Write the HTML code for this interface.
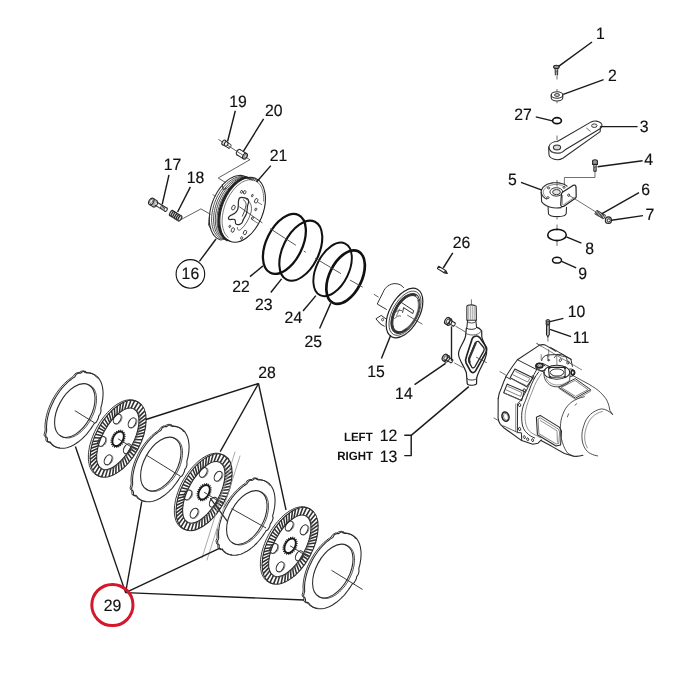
<!DOCTYPE html>
<html><head><meta charset="utf-8"><title>Parts diagram</title>
<style>
html,body{margin:0;padding:0;background:#fff;width:700px;height:700px;overflow:hidden}
svg{display:block}
text{font-family:"Liberation Sans",sans-serif;fill:#111;stroke:#111;stroke-width:0.16px;text-rendering:geometricPrecision}
</style></head><body>
<svg width="700" height="700" viewBox="0 0 700 700">
<rect width="700" height="700" fill="#fff"/>
<path d="M59.7,447.8 L58.4,447.6 L57.2,447.4 L56.0,447.1 L54.9,446.7 L53.8,446.2 L52.8,445.6 L51.8,444.9 L50.9,444.1 L50.0,443.2 L49.2,442.2 L48.2,441.6 L46.5,441.5 L45.9,440.2 L45.9,438.3 L45.4,436.9 L44.4,435.9 L44.1,434.3 L44.8,432.0 L45.2,429.9 L45.1,428.2 L45.0,426.5 L45.1,424.7 L45.2,422.9 L45.5,421.1 L45.7,419.2 L46.1,417.3 L46.5,415.4 L47.0,413.5 L47.6,411.5 L48.2,409.6 L49.0,407.6 L49.7,405.7 L50.6,403.8 L51.5,401.9 L52.4,400.0 L53.4,398.1 L54.5,396.3 L55.6,394.5 L56.8,392.7 L58.0,391.0 L59.2,389.4 L60.5,387.8 L61.8,386.2 L63.2,384.8 L64.5,383.4 L65.9,382.0 L67.3,380.8 L68.8,379.6 L70.2,378.5 L71.7,377.5 L73.1,376.5 L74.7,374.1 L76.2,373.1 L77.7,372.4 L79.1,372.6 L80.7,371.4 L82.2,371.0 L83.6,370.7 L84.5,372.5 L85.8,372.4 L87.1,372.4 L88.4,372.6 L89.6,372.8 L90.7,373.1 L91.9,373.6 L92.9,374.1 L94.0,374.7 L94.9,375.5 L95.8,376.3 L96.7,377.2 L97.5,378.2" fill="none" stroke="#2c2c2c" stroke-width="0.96" stroke-linejoin="round" stroke-linecap="round" />
<path d="M96.2,422.2 L94.2,423.5 L93.1,425.3 L91.9,427.1 L90.7,428.9 L89.5,430.5 L88.2,432.2 L86.9,433.8 L85.6,435.3 L84.2,436.7 L82.8,438.1 L81.4,439.4 L79.9,440.6 L78.5,441.8 L77.0,442.8 L75.6,443.8 L74.1,444.7 L72.6,445.5 L71.2,446.2 L69.7,446.8 L68.3,447.3 L66.9,447.7 L65.5,448.0 L64.1,448.2 L62.8,448.3 L61.4,448.3 L60.2,448.2 L58.9,448.0 L57.7,447.7 L56.6,447.3 L55.5,446.8 L54.5,446.2 L53.5,445.5 L52.5,444.7 L51.7,443.8 L50.9,442.8 L50.0,441.9 L48.1,442.2 L47.5,440.9 L47.5,438.9 L47.0,437.5 L46.0,436.6 L45.6,435.0 L46.1,432.8 L46.7,430.6 L46.6,428.9 L46.5,427.2 L46.6,425.4 L46.7,423.6 L46.9,421.7 L47.2,419.8 L47.6,417.9 L48.0,416.0 L48.5,414.0 L49.1,412.1 L49.7,410.1 L50.4,408.2 L51.2,406.2 L52.1,404.3 L53.0,402.4 L53.9,400.5 L54.9,398.6 L56.0,396.8 L57.1,395.0 L58.3,393.2 L59.5,391.5 L60.7,389.8 L62.0,388.2 L63.4,386.7 L64.7,385.2 L66.1,383.8 L67.5,382.4 L68.9,381.2 L70.4,380.0 L71.8,378.9 L73.3,377.9 L74.8,377.0 L76.3,374.3 L77.8,373.5 L79.4,372.9 L80.8,373.1 L82.4,371.8 L83.9,371.4 L85.3,371.2 L86.2,373.0 L87.5,372.9 L88.8,373.0 L90.0,373.1 L91.3,373.4 L92.4,373.7 L93.6,374.2 L94.6,374.7 L95.6,375.4 L96.6,376.1 L97.5,376.9 L98.4,377.9 L99.1,378.9 L99.8,380.0 L100.5,381.2 L101.1,382.4 L101.6,383.8 L102.0,385.2 L102.4,386.6 L102.6,388.2 L102.9,389.8 L103.0,391.5 L103.1,393.2 L103.0,394.9 L102.9,396.7 L102.8,398.6 L102.5,400.4 L102.2,402.3 L101.8,404.3 L101.3,406.2 L100.8,408.1 L101.0,410.1 L100.8,412.1 L100.0,414.2 L98.7,416.1 L98.3,418.3 L97.3,420.3 L96.2,422.2Z" fill="none" stroke="#2c2c2c" stroke-width="1.08" stroke-linejoin="round" stroke-linecap="round" />
<ellipse cx="74.8" cy="410.6" rx="16.7" ry="29.2" fill="none" stroke="#2c2c2c" stroke-width="1.08" transform="rotate(28.5 74.8 410.6)" />
<path d="M87.5,384.4 L88.6,384.7 L89.7,385.2 L90.7,385.7 L91.6,386.4 L92.5,387.1 L93.3,388.0 L94.0,389.0 L94.6,390.1 L95.2,391.3 L95.6,392.6 L96.0,394.0 L96.3,395.4 L96.4,397.0 L96.5,398.5 L96.5,400.2 L96.4,401.9 L96.2,403.7 L95.9,405.4 L95.5,407.2 L95.1,409.1 L94.5,410.9 L93.9,412.8 L93.1,414.6 L92.3,416.4 L91.4,418.2 L90.5,419.9 L89.5,421.7 L88.4,423.3 L87.3,424.9 L86.1,426.5 L84.8,427.9 L83.6,429.3 L82.2,430.6 L80.9,431.9 L79.5,433.0 L78.2,434.0 L76.8,434.9 L75.4,435.7 L74.0,436.4 L72.7,436.9 L71.3,437.4 L70.0,437.7 L68.7,437.9 L67.4,438.0 L66.2,437.9 L65.0,437.7 L63.9,437.4 L62.8,437.0 L61.8,436.4 L60.9,435.8 L60.0,435.0" fill="none" stroke="#2c2c2c" stroke-width="0.84" stroke-linejoin="round" stroke-linecap="round" />
<path d="M137.7,449.4 L131.4,446.2 M135.9,452.6 L130.2,448.5 M133.9,455.6 L128.8,450.6 M131.8,458.6 L127.4,452.8 M129.4,461.6 L125.8,455.0 M127.2,464.2 L124.3,457.0 M124.6,466.9 L122.5,459.1 M121.9,469.3 L120.6,461.1 M119.0,471.5 L118.5,463.1 M115.8,473.6 L116.1,465.1 M112.7,475.2 L113.6,466.8 M109.1,476.5 L110.8,468.3 M105.3,477.1 L107.6,469.4 M101.6,476.9 L104.5,469.6 M97.9,475.6 L101.4,468.7 M95.0,473.3 L99.2,466.6 M92.8,470.2 L97.7,463.8 M91.3,466.6 L96.9,460.6 M90.4,462.9 L96.6,457.3 M90.1,459.3 L96.7,454.4 M90.1,455.5 L97.1,451.3 M90.5,451.8 L97.7,448.4 M91.0,448.3 L98.3,445.7 M91.9,444.7 L99.1,443.1 M92.8,441.4 L100.0,440.7 M94.1,437.7 L101.0,438.1 M95.5,434.3 L102.0,435.8 M97.0,431.0 L103.1,433.5 M98.7,427.8 L104.3,431.2 M100.3,424.9 L105.4,429.2 M102.3,421.9 L106.8,427.1 M104.4,418.9 L108.2,424.9 M106.8,415.9 L109.8,422.7 M109.0,413.3 L111.3,420.7 M111.6,410.6 L113.1,418.6 M114.3,408.2 L115.0,416.6 M117.2,406.0 L117.1,414.6 M120.4,403.9 L119.5,412.6 M123.5,402.3 L122.0,410.9 M127.1,401.0 L124.8,409.4 M130.9,400.4 L128.0,408.3 M134.6,400.6 L131.1,408.1 M138.3,401.9 L134.2,409.0 M141.2,404.2 L136.4,411.1 M143.4,407.3 L137.9,413.9 M144.9,410.9 L138.7,417.1 M145.8,414.6 L139.0,420.4 M146.1,418.2 L138.9,423.3 M146.1,422.0 L138.5,426.4 M145.7,425.7 L137.9,429.3 M145.2,429.2 L137.3,432.0 M144.3,432.8 L136.5,434.6 M143.4,436.1 L135.6,437.0 M142.1,439.8 L134.6,439.6 M140.7,443.2 L133.6,441.9 M139.2,446.5 L132.5,444.2" fill="none" stroke="#303030" stroke-width="1.55"/>
<ellipse cx="118.1" cy="438.8" rx="22.3" ry="42.0" fill="none" stroke="#2a2a2a" stroke-width="1.08" transform="rotate(28.5 118.1 438.8)" />
<ellipse cx="117.8" cy="438.9" rx="15.5" ry="34.0" fill="none" stroke="#2a2a2a" stroke-width="1.08" transform="rotate(28.5 117.8 438.9)" />
<path d="M102.1,476.6 L100.5,476.4 L98.9,476.1 L97.5,475.6 L96.1,474.9 L94.8,474.0 L93.6,473.0 L92.5,471.8 L91.6,470.4 L90.7,468.9 L90.0,467.3 L89.4,465.5 L89.0,463.5 L88.6,461.5 L88.4,459.3 L88.4,457.1 L88.4,454.7 L88.6,452.3 L89.0,449.8 L89.4,447.2 L90.0,444.6 L90.8,442.0 L91.6,439.3 L92.6,436.7 L93.6,434.0 L94.8,431.4 L96.1,428.8 L97.5,426.2 L99.0,423.7 L100.5,421.3 L102.2,419.0 L103.9,416.7 L105.6,414.6 L107.5,412.5 L109.3,410.6 L111.2,408.8 L113.1,407.2 L115.1,405.7 L117.0,404.3 L118.9,403.2 L120.8,402.2 L122.7,401.3 L124.6,400.6 L126.5,400.2 L128.2,399.9 L130.0,399.7 L131.6,399.8 L133.2,400.0 L134.7,400.5 L136.1,401.1 L137.5,401.9 L138.7,402.8 L139.8,404.0 L140.8,405.3" fill="none" stroke="#2c2c2c" stroke-width="0.96" stroke-linejoin="round" stroke-linecap="round" />
<path d="M132.6,408.5 L133.7,408.8 L134.7,409.1 L135.6,409.6 L136.5,410.3 L137.3,411.0 L138.0,411.9 L138.6,413.0 L139.1,414.1 L139.5,415.4 L139.8,416.8 L140.0,418.3 L140.2,419.9 L140.2,421.5 L140.1,423.3 L139.9,425.1 L139.7,427.0 L139.3,429.0 L138.8,431.0 L138.3,433.1 L137.6,435.1 L136.9,437.2 L136.1,439.3 L135.2,441.5 L134.2,443.5 L133.2,445.6 L132.1,447.7 L130.9,449.7 L129.7,451.6 L128.4,453.5 L127.1,455.4 L125.7,457.1 L124.3,458.8 L122.9,460.4 L121.5,461.8 L120.0,463.2 L118.6,464.5 L117.1,465.6 L115.7,466.7 L114.3,467.6 L112.9,468.3 L111.5,468.9 L110.2,469.4 L108.9,469.8 L107.6,470.0 L106.4,470.0 L105.3,469.9 L104.2,469.7 L103.2,469.3 L102.3,468.8 L101.4,468.2 L100.7,467.4" fill="none" stroke="#666" stroke-width="0.6" stroke-linejoin="round" stroke-linecap="round" />
<ellipse cx="117.2" cy="418.9" rx="3.4" ry="5.3" fill="none" stroke="#2c2c2c" stroke-width="1.08" transform="rotate(28.5 117.2 418.9)" />
<path d="M121.1,414.9 L121.5,415.4 L121.8,416.0 L121.9,416.6 L122.0,417.3 L122.0,418.1 L121.8,418.9 L121.6,419.7 L121.3,420.5 L120.9,421.2 L120.4,422.0 L119.8,422.6 L119.2,423.1 L118.6,423.6 L118.0,423.9 L117.3,424.1 L116.7,424.2 L116.1,424.1" fill="none" stroke="#555" stroke-width="0.72" stroke-linejoin="round" stroke-linecap="round" />
<ellipse cx="132.1" cy="422.8" rx="3.4" ry="5.3" fill="none" stroke="#2c2c2c" stroke-width="1.08" transform="rotate(28.5 132.1 422.8)" />
<path d="M136.0,418.7 L136.4,419.2 L136.7,419.8 L136.8,420.4 L136.9,421.1 L136.9,421.9 L136.7,422.7 L136.5,423.5 L136.2,424.3 L135.8,425.0 L135.3,425.8 L134.7,426.4 L134.1,426.9 L133.5,427.4 L132.9,427.7 L132.2,427.9 L131.6,428.0 L131.0,427.9" fill="none" stroke="#555" stroke-width="0.72" stroke-linejoin="round" stroke-linecap="round" />
<ellipse cx="127.3" cy="448.8" rx="3.4" ry="5.3" fill="none" stroke="#2c2c2c" stroke-width="1.08" transform="rotate(28.5 127.3 448.8)" />
<path d="M131.2,444.7 L131.6,445.2 L131.9,445.8 L132.0,446.4 L132.1,447.1 L132.1,447.9 L131.9,448.7 L131.7,449.5 L131.4,450.3 L131.0,451.0 L130.5,451.8 L129.9,452.4 L129.3,452.9 L128.7,453.4 L128.1,453.7 L127.4,453.9 L126.8,454.0 L126.2,453.9" fill="none" stroke="#555" stroke-width="0.72" stroke-linejoin="round" stroke-linecap="round" />
<ellipse cx="108.1" cy="459.8" rx="3.4" ry="5.3" fill="none" stroke="#2c2c2c" stroke-width="1.08" transform="rotate(28.5 108.1 459.8)" />
<path d="M112.0,455.7 L112.4,456.2 L112.7,456.8 L112.8,457.4 L112.9,458.1 L112.9,458.9 L112.7,459.7 L112.5,460.5 L112.2,461.3 L111.8,462.0 L111.3,462.8 L110.7,463.4 L110.1,463.9 L109.5,464.4 L108.9,464.7 L108.2,464.9 L107.6,465.0 L107.0,464.9" fill="none" stroke="#555" stroke-width="0.72" stroke-linejoin="round" stroke-linecap="round" />
<ellipse cx="101.8" cy="441.4" rx="3.4" ry="5.3" fill="none" stroke="#2c2c2c" stroke-width="1.08" transform="rotate(28.5 101.8 441.4)" />
<path d="M105.7,437.3 L106.1,437.8 L106.4,438.4 L106.5,439.0 L106.6,439.7 L106.6,440.5 L106.4,441.3 L106.2,442.1 L105.9,442.9 L105.5,443.6 L105.0,444.4 L104.4,445.0 L103.8,445.5 L103.2,446.0 L102.6,446.3 L101.9,446.5 L101.3,446.6 L100.7,446.5" fill="none" stroke="#555" stroke-width="0.72" stroke-linejoin="round" stroke-linecap="round" />
<ellipse cx="118.1" cy="438.8" rx="5.0" ry="7.8" fill="none" stroke="#1a1a1a" stroke-width="1.92" transform="rotate(28.5 118.1 438.8)" />
<ellipse cx="118.1" cy="438.8" rx="6.2" ry="9.1" fill="none" stroke="#1a1a1a" stroke-width="1.2" transform="rotate(28.5 118.1 438.8)" stroke-dasharray="1 1.1"/>
<path d="M145.7,501.3 L144.4,501.1 L143.2,500.9 L142.0,500.6 L140.9,500.2 L139.8,499.7 L138.8,499.1 L137.8,498.4 L136.9,497.6 L136.0,496.7 L135.2,495.7 L134.2,495.1 L132.5,495.0 L131.9,493.7 L131.9,491.8 L131.4,490.4 L130.4,489.4 L130.1,487.8 L130.8,485.5 L131.2,483.4 L131.1,481.7 L131.0,480.0 L131.1,478.2 L131.2,476.4 L131.5,474.6 L131.7,472.7 L132.1,470.8 L132.5,468.9 L133.0,467.0 L133.6,465.0 L134.2,463.1 L135.0,461.1 L135.7,459.2 L136.6,457.3 L137.5,455.4 L138.4,453.5 L139.4,451.6 L140.5,449.8 L141.6,448.0 L142.8,446.2 L144.0,444.5 L145.2,442.9 L146.5,441.3 L147.8,439.7 L149.2,438.3 L150.5,436.9 L151.9,435.5 L153.3,434.3 L154.8,433.1 L156.2,432.0 L157.7,431.0 L159.1,430.0 L160.7,427.6 L162.2,426.6 L163.7,425.9 L165.1,426.1 L166.7,424.9 L168.2,424.5 L169.6,424.2 L170.5,426.0 L171.8,425.9 L173.1,425.9 L174.4,426.1 L175.6,426.3 L176.7,426.6 L177.9,427.1 L178.9,427.6 L180.0,428.2 L180.9,429.0 L181.8,429.8 L182.7,430.7 L183.5,431.7" fill="none" stroke="#2c2c2c" stroke-width="0.96" stroke-linejoin="round" stroke-linecap="round" />
<path d="M182.2,475.7 L180.2,477.0 L179.1,478.8 L177.9,480.6 L176.7,482.4 L175.5,484.0 L174.2,485.7 L172.9,487.3 L171.6,488.8 L170.2,490.2 L168.8,491.6 L167.4,492.9 L165.9,494.1 L164.5,495.3 L163.0,496.3 L161.6,497.3 L160.1,498.2 L158.6,499.0 L157.2,499.7 L155.7,500.3 L154.3,500.8 L152.9,501.2 L151.5,501.5 L150.1,501.7 L148.8,501.8 L147.4,501.8 L146.2,501.7 L144.9,501.5 L143.7,501.2 L142.6,500.8 L141.5,500.3 L140.5,499.7 L139.5,499.0 L138.5,498.2 L137.7,497.3 L136.9,496.3 L136.0,495.4 L134.1,495.7 L133.5,494.4 L133.5,492.4 L133.0,491.0 L132.0,490.1 L131.6,488.5 L132.1,486.3 L132.7,484.1 L132.6,482.4 L132.5,480.7 L132.6,478.9 L132.7,477.1 L132.9,475.2 L133.2,473.3 L133.6,471.4 L134.0,469.5 L134.5,467.5 L135.1,465.6 L135.7,463.6 L136.4,461.7 L137.2,459.7 L138.1,457.8 L139.0,455.9 L139.9,454.0 L140.9,452.1 L142.0,450.3 L143.1,448.5 L144.3,446.7 L145.5,445.0 L146.7,443.3 L148.0,441.7 L149.4,440.2 L150.7,438.7 L152.1,437.3 L153.5,435.9 L154.9,434.7 L156.4,433.5 L157.8,432.4 L159.3,431.4 L160.8,430.5 L162.3,427.8 L163.8,427.0 L165.4,426.4 L166.8,426.6 L168.4,425.3 L169.9,424.9 L171.3,424.7 L172.2,426.5 L173.5,426.4 L174.8,426.5 L176.0,426.6 L177.3,426.9 L178.4,427.2 L179.6,427.7 L180.6,428.2 L181.6,428.9 L182.6,429.6 L183.5,430.4 L184.4,431.4 L185.1,432.4 L185.8,433.5 L186.5,434.7 L187.1,435.9 L187.6,437.3 L188.0,438.7 L188.4,440.1 L188.6,441.7 L188.9,443.3 L189.0,445.0 L189.1,446.7 L189.0,448.4 L188.9,450.2 L188.8,452.1 L188.5,453.9 L188.2,455.8 L187.8,457.8 L187.3,459.7 L186.8,461.6 L187.0,463.6 L186.8,465.6 L186.0,467.7 L184.7,469.6 L184.3,471.8 L183.3,473.8 L182.2,475.7Z" fill="none" stroke="#2c2c2c" stroke-width="1.08" stroke-linejoin="round" stroke-linecap="round" />
<ellipse cx="160.8" cy="464.1" rx="16.7" ry="29.2" fill="none" stroke="#2c2c2c" stroke-width="1.08" transform="rotate(28.5 160.8 464.1)" />
<path d="M173.5,437.9 L174.6,438.2 L175.7,438.7 L176.7,439.2 L177.6,439.9 L178.5,440.6 L179.3,441.5 L180.0,442.5 L180.6,443.6 L181.2,444.8 L181.6,446.1 L182.0,447.5 L182.3,448.9 L182.4,450.5 L182.5,452.0 L182.5,453.7 L182.4,455.4 L182.2,457.2 L181.9,458.9 L181.5,460.7 L181.1,462.6 L180.5,464.4 L179.9,466.3 L179.1,468.1 L178.3,469.9 L177.4,471.7 L176.5,473.4 L175.5,475.2 L174.4,476.8 L173.3,478.4 L172.1,480.0 L170.8,481.4 L169.6,482.8 L168.2,484.1 L166.9,485.4 L165.5,486.5 L164.2,487.5 L162.8,488.4 L161.4,489.2 L160.0,489.9 L158.7,490.4 L157.3,490.9 L156.0,491.2 L154.7,491.4 L153.4,491.5 L152.2,491.4 L151.0,491.2 L149.9,490.9 L148.8,490.5 L147.8,489.9 L146.9,489.3 L146.0,488.5" fill="none" stroke="#2c2c2c" stroke-width="0.84" stroke-linejoin="round" stroke-linecap="round" />
<path d="M223.7,502.9 L217.4,499.7 M221.9,506.1 L216.2,502.0 M219.9,509.1 L214.8,504.1 M217.8,512.1 L213.4,506.3 M215.4,515.1 L211.8,508.5 M213.2,517.7 L210.3,510.5 M210.6,520.4 L208.5,512.6 M207.9,522.8 L206.6,514.6 M205.0,525.0 L204.5,516.6 M201.8,527.1 L202.1,518.6 M198.7,528.7 L199.6,520.3 M195.1,530.0 L196.8,521.8 M191.3,530.6 L193.6,522.9 M187.6,530.4 L190.5,523.1 M183.9,529.1 L187.4,522.2 M181.0,526.8 L185.2,520.1 M178.8,523.7 L183.7,517.3 M177.3,520.1 L182.9,514.1 M176.4,516.4 L182.6,510.8 M176.1,512.8 L182.7,507.9 M176.1,509.0 L183.1,504.8 M176.5,505.3 L183.7,501.9 M177.0,501.8 L184.3,499.2 M177.9,498.2 L185.1,496.6 M178.8,494.9 L186.0,494.2 M180.1,491.2 L187.0,491.6 M181.5,487.8 L188.0,489.3 M183.0,484.5 L189.1,487.0 M184.7,481.3 L190.3,484.7 M186.3,478.4 L191.4,482.7 M188.3,475.4 L192.8,480.6 M190.4,472.4 L194.2,478.4 M192.8,469.4 L195.8,476.2 M195.0,466.8 L197.3,474.2 M197.6,464.1 L199.1,472.1 M200.3,461.7 L201.0,470.1 M203.2,459.5 L203.1,468.1 M206.4,457.4 L205.5,466.1 M209.5,455.8 L208.0,464.4 M213.1,454.5 L210.8,462.9 M216.9,453.9 L214.0,461.8 M220.6,454.1 L217.1,461.6 M224.3,455.4 L220.2,462.5 M227.2,457.7 L222.4,464.6 M229.4,460.8 L223.9,467.4 M230.9,464.4 L224.7,470.6 M231.8,468.1 L225.0,473.9 M232.1,471.7 L224.9,476.8 M232.1,475.5 L224.5,479.9 M231.7,479.2 L223.9,482.8 M231.2,482.7 L223.3,485.5 M230.3,486.3 L222.5,488.1 M229.4,489.6 L221.6,490.5 M228.1,493.3 L220.6,493.1 M226.7,496.7 L219.6,495.4 M225.2,500.0 L218.5,497.7" fill="none" stroke="#303030" stroke-width="1.55"/>
<ellipse cx="204.1" cy="492.2" rx="22.3" ry="42.0" fill="none" stroke="#2a2a2a" stroke-width="1.08" transform="rotate(28.5 204.1 492.2)" />
<ellipse cx="203.8" cy="492.4" rx="15.5" ry="34.0" fill="none" stroke="#2a2a2a" stroke-width="1.08" transform="rotate(28.5 203.8 492.4)" />
<path d="M188.1,530.1 L186.5,529.9 L184.9,529.6 L183.5,529.1 L182.1,528.4 L180.8,527.5 L179.6,526.5 L178.5,525.3 L177.6,523.9 L176.7,522.4 L176.0,520.8 L175.4,519.0 L175.0,517.0 L174.6,515.0 L174.4,512.8 L174.4,510.6 L174.4,508.2 L174.6,505.8 L175.0,503.3 L175.4,500.7 L176.0,498.1 L176.8,495.5 L177.6,492.8 L178.6,490.2 L179.6,487.5 L180.8,484.9 L182.1,482.3 L183.5,479.7 L185.0,477.2 L186.5,474.8 L188.2,472.5 L189.9,470.2 L191.6,468.1 L193.5,466.0 L195.3,464.1 L197.2,462.3 L199.1,460.7 L201.1,459.2 L203.0,457.8 L204.9,456.7 L206.8,455.7 L208.7,454.8 L210.6,454.1 L212.5,453.7 L214.2,453.4 L216.0,453.2 L217.6,453.3 L219.2,453.5 L220.7,454.0 L222.1,454.6 L223.5,455.4 L224.7,456.3 L225.8,457.5 L226.8,458.8" fill="none" stroke="#2c2c2c" stroke-width="0.96" stroke-linejoin="round" stroke-linecap="round" />
<path d="M218.6,462.0 L219.7,462.3 L220.7,462.6 L221.6,463.1 L222.5,463.8 L223.3,464.5 L224.0,465.4 L224.6,466.5 L225.1,467.6 L225.5,468.9 L225.8,470.3 L226.0,471.8 L226.2,473.4 L226.2,475.0 L226.1,476.8 L225.9,478.6 L225.7,480.5 L225.3,482.5 L224.8,484.5 L224.3,486.6 L223.6,488.6 L222.9,490.7 L222.1,492.8 L221.2,495.0 L220.2,497.0 L219.2,499.1 L218.1,501.2 L216.9,503.2 L215.7,505.1 L214.4,507.0 L213.1,508.9 L211.7,510.6 L210.3,512.3 L208.9,513.9 L207.5,515.3 L206.0,516.7 L204.6,518.0 L203.1,519.1 L201.7,520.2 L200.3,521.1 L198.9,521.8 L197.5,522.4 L196.2,522.9 L194.9,523.3 L193.6,523.5 L192.4,523.5 L191.3,523.4 L190.2,523.2 L189.2,522.8 L188.3,522.3 L187.4,521.7 L186.7,520.9" fill="none" stroke="#666" stroke-width="0.6" stroke-linejoin="round" stroke-linecap="round" />
<ellipse cx="203.2" cy="472.4" rx="3.4" ry="5.3" fill="none" stroke="#2c2c2c" stroke-width="1.08" transform="rotate(28.5 203.2 472.4)" />
<path d="M207.1,468.4 L207.5,468.9 L207.8,469.5 L207.9,470.1 L208.0,470.8 L208.0,471.6 L207.8,472.4 L207.6,473.2 L207.3,474.0 L206.9,474.7 L206.4,475.5 L205.8,476.1 L205.2,476.6 L204.6,477.1 L204.0,477.4 L203.3,477.6 L202.7,477.7 L202.1,477.6" fill="none" stroke="#555" stroke-width="0.72" stroke-linejoin="round" stroke-linecap="round" />
<ellipse cx="218.1" cy="476.2" rx="3.4" ry="5.3" fill="none" stroke="#2c2c2c" stroke-width="1.08" transform="rotate(28.5 218.1 476.2)" />
<path d="M222.0,472.2 L222.4,472.7 L222.7,473.3 L222.8,473.9 L222.9,474.6 L222.9,475.4 L222.7,476.2 L222.5,477.0 L222.2,477.8 L221.8,478.5 L221.3,479.3 L220.7,479.9 L220.1,480.4 L219.5,480.9 L218.9,481.2 L218.2,481.4 L217.6,481.5 L217.0,481.4" fill="none" stroke="#555" stroke-width="0.72" stroke-linejoin="round" stroke-linecap="round" />
<ellipse cx="213.3" cy="502.2" rx="3.4" ry="5.3" fill="none" stroke="#2c2c2c" stroke-width="1.08" transform="rotate(28.5 213.3 502.2)" />
<path d="M217.2,498.2 L217.6,498.7 L217.9,499.3 L218.0,499.9 L218.1,500.6 L218.1,501.4 L217.9,502.2 L217.7,503.0 L217.4,503.8 L217.0,504.5 L216.5,505.3 L215.9,505.9 L215.3,506.4 L214.7,506.9 L214.1,507.2 L213.4,507.4 L212.8,507.5 L212.2,507.4" fill="none" stroke="#555" stroke-width="0.72" stroke-linejoin="round" stroke-linecap="round" />
<ellipse cx="194.1" cy="513.2" rx="3.4" ry="5.3" fill="none" stroke="#2c2c2c" stroke-width="1.08" transform="rotate(28.5 194.1 513.2)" />
<path d="M198.0,509.2 L198.4,509.7 L198.7,510.3 L198.8,510.9 L198.9,511.6 L198.9,512.4 L198.7,513.2 L198.5,514.0 L198.2,514.8 L197.8,515.5 L197.3,516.3 L196.7,516.9 L196.1,517.4 L195.5,517.9 L194.9,518.2 L194.2,518.4 L193.6,518.5 L193.0,518.4" fill="none" stroke="#555" stroke-width="0.72" stroke-linejoin="round" stroke-linecap="round" />
<ellipse cx="187.8" cy="494.9" rx="3.4" ry="5.3" fill="none" stroke="#2c2c2c" stroke-width="1.08" transform="rotate(28.5 187.8 494.9)" />
<path d="M191.7,490.8 L192.1,491.3 L192.4,491.9 L192.5,492.5 L192.6,493.2 L192.6,494.0 L192.4,494.8 L192.2,495.6 L191.9,496.4 L191.5,497.1 L191.0,497.9 L190.4,498.5 L189.8,499.0 L189.2,499.5 L188.6,499.8 L187.9,500.0 L187.3,500.1 L186.7,500.0" fill="none" stroke="#555" stroke-width="0.72" stroke-linejoin="round" stroke-linecap="round" />
<ellipse cx="204.1" cy="492.2" rx="5.0" ry="7.8" fill="none" stroke="#1a1a1a" stroke-width="1.92" transform="rotate(28.5 204.1 492.2)" />
<ellipse cx="204.1" cy="492.2" rx="6.2" ry="9.1" fill="none" stroke="#1a1a1a" stroke-width="1.2" transform="rotate(28.5 204.1 492.2)" stroke-dasharray="1 1.1"/>
<path d="M231.7,554.8 L230.8,554.7 L230.0,554.6 L229.2,554.4 L228.4,554.2 L227.6,554.0 L226.9,553.7 L226.1,553.3 L225.4,553.0 L224.8,552.5 L224.1,552.1 L223.5,551.6 L222.9,551.0 L222.3,550.4 L221.7,549.8 L221.2,549.1 L220.7,548.4 L219.1,549.0 L218.5,548.5 L218.0,547.6 L217.7,546.7 L217.9,545.2 L217.6,544.2 L216.7,543.8 L216.4,542.8 L216.2,541.7 L216.0,540.6 L216.9,538.7 L217.2,537.3 L217.1,536.2 L217.1,535.1 L217.0,533.9 L217.1,532.7 L217.1,531.6 L217.2,530.3 L217.3,529.1 M224.2,507.3 L224.9,506.0 L225.6,504.8 L226.3,503.6 L227.0,502.4 L227.8,501.2 L228.6,500.0 L229.4,498.8 L230.2,497.7 L231.0,496.6 L231.9,495.5 L232.7,494.5 L233.6,493.4 L234.5,492.4 L235.4,491.5 L236.4,490.5 L237.3,489.6 L238.2,488.7 L239.2,487.9 L240.1,487.1 L241.1,486.3 L242.1,485.6 L243.0,484.9 L244.0,484.2 L245.0,483.6 L246.0,482.6 L247.0,480.7 L248.1,480.2 L249.1,479.7 L250.1,479.3 L251.0,479.7 L252.0,479.3 L253.1,478.2 L254.1,478.0 L255.1,477.8 L255.9,478.0 L256.4,479.5 L257.3,479.4 L258.2,479.4 L259.0,479.4 L259.9,479.5 L260.7,479.6 L261.5,479.8 L262.3,480.0 L263.1,480.3 L263.8,480.6 L264.6,480.9 L265.3,481.3 L265.9,481.7 L266.6,482.2 L267.2,482.7 L267.8,483.3 L268.4,483.9 L269.0,484.5 L269.5,485.2" fill="none" stroke="#2c2c2c" stroke-width="0.96" stroke-linejoin="round" stroke-linecap="round" />
<path d="M262.5,480.2 L263.3,480.4 L264.1,480.6 L264.9,480.9 L265.6,481.2 L266.3,481.6 L267.0,482.0 L267.7,482.4 L268.4,482.9 L269.0,483.4 L269.6,484.0 L270.1,484.6 L270.7,485.3 L271.2,486.0 L271.7,486.7 L272.1,487.5 L272.5,488.3 L272.9,489.1 L273.3,490.0 L273.6,490.9 L273.9,491.8 L274.2,492.8 L274.4,493.8 L274.6,494.8 L274.7,495.9 L274.9,497.0 L275.0,498.1 L275.0,499.2 L275.1,500.4 L275.0,501.5 L275.0,502.7 L274.9,503.9 L274.8,505.2 L274.7,506.4 L274.5,507.7 L274.3,508.9 L274.0,510.2 L273.8,511.5 L273.5,512.8 L273.1,514.1 L272.7,515.4 L272.7,516.7 L273.2,518.0 L272.7,519.4 L272.2,520.8 L271.6,522.1 L270.6,523.4 L270.0,524.7 L269.8,526.2 L269.1,527.6 L268.4,528.9 L267.5,530.1 L266.0,530.8 L265.3,532.0 L264.5,533.2 L263.7,534.4 L262.9,535.6 L262.1,536.7 L261.3,537.8 L260.4,538.9 L259.6,540.0 L258.7,541.0 L257.8,542.0 L256.9,543.0 L255.9,544.0 L255.0,544.9 L254.1,545.8 L253.1,546.6 L252.2,547.4 L251.2,548.2 L250.2,549.0 L249.2,549.7 L248.3,550.3 L247.3,551.0 L246.3,551.6 L245.3,552.1 L244.3,552.6 L243.4,553.1 L242.4,553.5 L241.4,553.9 L240.5,554.2 L239.5,554.5 L238.6,554.7 L237.6,554.9 L236.7,555.1 L235.8,555.2 L234.9,555.3 L234.0,555.3 L233.2,555.3 L232.3,555.2 L231.5,555.1 L230.7,554.9 L229.9,554.7 L229.1,554.5 L228.3,554.2 L227.6,553.8 L226.9,553.4 L226.2,553.0 L225.6,552.6 L224.9,552.0 L224.3,551.5 L223.7,550.9 L223.2,550.3 L222.7,549.6 L222.2,548.9 L220.5,549.6 L219.9,548.9 L219.5,548.0 L219.1,547.1 L219.3,545.6 L219.0,544.6 L218.1,544.2 L217.9,543.2 L217.7,542.1 L217.5,541.0 L218.6,538.9 L218.7,537.7 L218.6,536.6 L218.6,535.4 L218.5,534.3 L218.6,533.1 L218.6,531.9 L218.7,530.7 L218.9,529.4 L219.0,528.2 L219.2,526.9 L219.4,525.6 L219.7,524.4 L220.0,523.1 L220.3,521.8 L220.7,520.5 L221.1,519.2 L221.5,517.8 L221.9,516.5 L222.4,515.2 L222.9,513.9 L223.5,512.6 L224.0,511.3 L224.6,510.1 L225.2,508.8 L225.9,507.5 L226.6,506.3 L227.3,505.0 L228.0,503.8 L228.7,502.6 L229.5,501.4 L230.3,500.2 L231.1,499.1 L231.9,497.9 L232.7,496.8 L233.6,495.8 L234.5,494.7 L235.4,493.7 L236.3,492.7 L237.2,491.7 L238.1,490.8 L239.1,489.9 L240.0,489.0 L241.0,488.2 L241.9,487.4 L242.9,486.6 L243.9,485.9 L244.8,485.2 L245.8,484.5 L246.8,483.9 L247.8,482.3 L248.9,481.0 L249.9,480.5 L250.9,480.1 L251.8,480.4 L252.8,480.1 L254.0,478.9 L255.0,478.7 L255.9,478.4 L256.9,478.2 L257.6,479.1 L258.2,480.0 L259.1,479.9 L260.0,479.9 L260.9,480.0 L261.7,480.1 L262.5,480.2" fill="none" stroke="#2c2c2c" stroke-width="1.08" stroke-linejoin="round" stroke-linecap="round" />
<ellipse cx="246.8" cy="517.6" rx="16.7" ry="29.2" fill="none" stroke="#2c2c2c" stroke-width="1.08" transform="rotate(28.5 246.8 517.6)" />
<path d="M259.5,491.4 L260.6,491.7 L261.7,492.2 L262.7,492.7 L263.6,493.4 L264.5,494.1 L265.3,495.0 L266.0,496.0 L266.6,497.1 L267.2,498.3 L267.6,499.6 L268.0,501.0 L268.3,502.4 L268.4,504.0 L268.5,505.5 L268.5,507.2 L268.4,508.9 L268.2,510.7 L267.9,512.4 L267.5,514.2 L267.1,516.1 L266.5,517.9 L265.9,519.8 L265.1,521.6 L264.3,523.4 L263.4,525.2 L262.5,526.9 L261.5,528.7 L260.4,530.3 L259.3,531.9 L258.1,533.5 L256.8,534.9 L255.6,536.3 L254.2,537.6 L252.9,538.9 L251.5,540.0 L250.2,541.0 L248.8,541.9 L247.4,542.7 L246.0,543.4 L244.7,543.9 L243.3,544.4 L242.0,544.7 L240.7,544.9 L239.4,545.0 L238.2,544.9 L237.0,544.7 L235.9,544.4 L234.8,544.0 L233.8,543.4 L232.9,542.8 L232.0,542.0" fill="none" stroke="#2c2c2c" stroke-width="0.84" stroke-linejoin="round" stroke-linecap="round" />
<path d="M309.7,556.4 L303.4,553.2 M307.9,559.6 L302.2,555.5 M305.9,562.6 L300.8,557.6 M303.8,565.6 L299.4,559.8 M301.4,568.6 L297.8,562.0 M299.2,571.2 L296.3,564.0 M296.6,573.9 L294.5,566.1 M293.9,576.3 L292.6,568.1 M291.0,578.5 L290.5,570.1 M287.8,580.6 L288.1,572.1 M284.7,582.2 L285.6,573.8 M281.1,583.5 L282.8,575.3 M277.3,584.1 L279.6,576.4 M273.6,583.9 L276.5,576.6 M269.9,582.6 L273.4,575.7 M267.0,580.3 L271.2,573.6 M264.8,577.2 L269.7,570.8 M263.3,573.6 L268.9,567.6 M262.4,569.9 L268.6,564.3 M262.1,566.3 L268.7,561.4 M262.1,562.5 L269.1,558.3 M262.5,558.8 L269.7,555.4 M263.0,555.3 L270.3,552.7 M263.9,551.7 L271.1,550.1 M264.8,548.4 L272.0,547.7 M266.1,544.7 L273.0,545.1 M267.5,541.3 L274.0,542.8 M269.0,538.0 L275.1,540.5 M270.7,534.8 L276.3,538.2 M272.3,531.9 L277.4,536.2 M274.3,528.9 L278.8,534.1 M276.4,525.9 L280.2,531.9 M278.8,522.9 L281.8,529.7 M281.0,520.3 L283.3,527.7 M283.6,517.6 L285.1,525.6 M286.3,515.2 L287.0,523.6 M289.2,513.0 L289.1,521.6 M292.4,510.9 L291.5,519.6 M295.5,509.3 L294.0,517.9 M299.1,508.0 L296.8,516.4 M302.9,507.4 L300.0,515.3 M306.6,507.6 L303.1,515.1 M310.3,508.9 L306.2,516.0 M313.2,511.2 L308.4,518.1 M315.4,514.3 L309.9,520.9 M316.9,517.9 L310.7,524.1 M317.8,521.6 L311.0,527.4 M318.1,525.2 L310.9,530.3 M318.1,529.0 L310.5,533.4 M317.7,532.7 L309.9,536.3 M317.2,536.2 L309.3,539.0 M316.3,539.8 L308.5,541.6 M315.4,543.1 L307.6,544.0 M314.1,546.8 L306.6,546.6 M312.7,550.2 L305.6,548.9 M311.2,553.5 L304.5,551.2" fill="none" stroke="#303030" stroke-width="1.55"/>
<ellipse cx="290.1" cy="545.8" rx="22.3" ry="42.0" fill="none" stroke="#2a2a2a" stroke-width="1.08" transform="rotate(28.5 290.1 545.8)" />
<ellipse cx="289.8" cy="545.9" rx="15.5" ry="34.0" fill="none" stroke="#2a2a2a" stroke-width="1.08" transform="rotate(28.5 289.8 545.9)" />
<path d="M274.1,583.6 L272.5,583.4 L270.9,583.1 L269.5,582.6 L268.1,581.9 L266.8,581.0 L265.6,580.0 L264.5,578.8 L263.6,577.4 L262.7,575.9 L262.0,574.3 L261.4,572.5 L261.0,570.5 L260.6,568.5 L260.4,566.3 L260.4,564.1 L260.4,561.7 L260.6,559.3 L261.0,556.8 L261.4,554.2 L262.0,551.6 L262.8,549.0 L263.6,546.3 L264.6,543.7 L265.6,541.0 L266.8,538.4 L268.1,535.8 L269.5,533.2 L271.0,530.7 L272.5,528.3 L274.2,526.0 L275.9,523.7 L277.6,521.6 L279.5,519.5 L281.3,517.6 L283.2,515.8 L285.1,514.2 L287.1,512.7 L289.0,511.3 L290.9,510.2 L292.8,509.2 L294.7,508.3 L296.6,507.6 L298.5,507.2 L300.2,506.9 L302.0,506.7 L303.6,506.8 L305.2,507.0 L306.7,507.5 L308.1,508.1 L309.5,508.9 L310.7,509.8 L311.8,511.0 L312.8,512.3" fill="none" stroke="#2c2c2c" stroke-width="0.96" stroke-linejoin="round" stroke-linecap="round" />
<path d="M304.6,515.5 L305.7,515.8 L306.7,516.1 L307.6,516.6 L308.5,517.3 L309.3,518.0 L310.0,518.9 L310.6,520.0 L311.1,521.1 L311.5,522.4 L311.8,523.8 L312.0,525.3 L312.2,526.9 L312.2,528.5 L312.1,530.3 L311.9,532.1 L311.7,534.0 L311.3,536.0 L310.8,538.0 L310.3,540.1 L309.6,542.1 L308.9,544.2 L308.1,546.3 L307.2,548.5 L306.2,550.5 L305.2,552.6 L304.1,554.7 L302.9,556.7 L301.7,558.6 L300.4,560.5 L299.1,562.4 L297.7,564.1 L296.3,565.8 L294.9,567.4 L293.5,568.8 L292.0,570.2 L290.6,571.5 L289.1,572.6 L287.7,573.7 L286.3,574.6 L284.9,575.3 L283.5,575.9 L282.2,576.4 L280.9,576.8 L279.6,577.0 L278.4,577.0 L277.3,576.9 L276.2,576.7 L275.2,576.3 L274.3,575.8 L273.4,575.2 L272.7,574.4" fill="none" stroke="#666" stroke-width="0.6" stroke-linejoin="round" stroke-linecap="round" />
<ellipse cx="289.2" cy="526.0" rx="3.4" ry="5.3" fill="none" stroke="#2c2c2c" stroke-width="1.08" transform="rotate(28.5 289.2 526.0)" />
<path d="M293.1,521.9 L293.5,522.4 L293.8,523.0 L293.9,523.6 L294.0,524.3 L294.0,525.1 L293.8,525.9 L293.6,526.7 L293.3,527.5 L292.9,528.2 L292.4,529.0 L291.8,529.6 L291.2,530.1 L290.6,530.6 L290.0,530.9 L289.3,531.1 L288.7,531.2 L288.1,531.1" fill="none" stroke="#555" stroke-width="0.72" stroke-linejoin="round" stroke-linecap="round" />
<ellipse cx="304.1" cy="529.8" rx="3.4" ry="5.3" fill="none" stroke="#2c2c2c" stroke-width="1.08" transform="rotate(28.5 304.1 529.8)" />
<path d="M308.0,525.7 L308.4,526.2 L308.7,526.8 L308.8,527.4 L308.9,528.1 L308.9,528.9 L308.7,529.7 L308.5,530.5 L308.2,531.3 L307.8,532.0 L307.3,532.8 L306.7,533.4 L306.1,533.9 L305.5,534.4 L304.9,534.7 L304.2,534.9 L303.6,535.0 L303.0,534.9" fill="none" stroke="#555" stroke-width="0.72" stroke-linejoin="round" stroke-linecap="round" />
<ellipse cx="299.3" cy="555.8" rx="3.4" ry="5.3" fill="none" stroke="#2c2c2c" stroke-width="1.08" transform="rotate(28.5 299.3 555.8)" />
<path d="M303.2,551.7 L303.6,552.2 L303.9,552.8 L304.0,553.4 L304.1,554.1 L304.1,554.9 L303.9,555.7 L303.7,556.5 L303.4,557.3 L303.0,558.0 L302.5,558.8 L301.9,559.4 L301.3,559.9 L300.7,560.4 L300.1,560.7 L299.4,560.9 L298.8,561.0 L298.2,560.9" fill="none" stroke="#555" stroke-width="0.72" stroke-linejoin="round" stroke-linecap="round" />
<ellipse cx="280.1" cy="566.8" rx="3.4" ry="5.3" fill="none" stroke="#2c2c2c" stroke-width="1.08" transform="rotate(28.5 280.1 566.8)" />
<path d="M284.0,562.7 L284.4,563.2 L284.7,563.8 L284.8,564.4 L284.9,565.1 L284.9,565.9 L284.7,566.7 L284.5,567.5 L284.2,568.3 L283.8,569.0 L283.3,569.8 L282.7,570.4 L282.1,570.9 L281.5,571.4 L280.9,571.7 L280.2,571.9 L279.6,572.0 L279.0,571.9" fill="none" stroke="#555" stroke-width="0.72" stroke-linejoin="round" stroke-linecap="round" />
<ellipse cx="273.8" cy="548.4" rx="3.4" ry="5.3" fill="none" stroke="#2c2c2c" stroke-width="1.08" transform="rotate(28.5 273.8 548.4)" />
<path d="M277.7,544.3 L278.1,544.8 L278.4,545.4 L278.5,546.0 L278.6,546.7 L278.6,547.5 L278.4,548.3 L278.2,549.1 L277.9,549.9 L277.5,550.6 L277.0,551.4 L276.4,552.0 L275.8,552.5 L275.2,553.0 L274.6,553.3 L273.9,553.5 L273.3,553.6 L272.7,553.5" fill="none" stroke="#555" stroke-width="0.72" stroke-linejoin="round" stroke-linecap="round" />
<ellipse cx="290.1" cy="545.8" rx="5.0" ry="7.8" fill="none" stroke="#1a1a1a" stroke-width="1.92" transform="rotate(28.5 290.1 545.8)" />
<ellipse cx="290.1" cy="545.8" rx="6.2" ry="9.1" fill="none" stroke="#1a1a1a" stroke-width="1.2" transform="rotate(28.5 290.1 545.8)" stroke-dasharray="1 1.1"/>
<path d="M317.7,608.3 L316.4,608.1 L315.2,607.9 L314.0,607.6 L312.9,607.2 L311.8,606.7 L310.8,606.1 L309.8,605.4 L308.9,604.6 L308.0,603.7 L307.2,602.7 L306.2,602.1 L304.5,602.0 L303.9,600.7 L303.9,598.8 L303.4,597.4 L302.4,596.4 L302.1,594.8 L302.8,592.5 L303.2,590.4 L303.1,588.7 L303.0,587.0 L303.1,585.2 L303.2,583.4 L303.5,581.6 L303.7,579.7 L304.1,577.8 L304.5,575.9 L305.0,574.0 L305.6,572.0 L306.2,570.1 L307.0,568.1 L307.7,566.2 L308.6,564.3 L309.5,562.4 L310.4,560.5 L311.4,558.6 L312.5,556.8 L313.6,555.0 L314.8,553.2 L316.0,551.5 L317.2,549.9 L318.5,548.3 L319.8,546.7 L321.2,545.3 L322.5,543.9 L323.9,542.5 L325.3,541.3 L326.8,540.1 L328.2,539.0 L329.7,538.0 L331.1,537.0 L332.7,534.6 L334.2,533.6 L335.7,532.9 L337.1,533.1 L338.7,531.9 L340.2,531.5 L341.6,531.2 L342.5,533.0 L343.8,532.9 L345.1,532.9 L346.4,533.1 L347.6,533.3 L348.7,533.6 L349.9,534.1 L350.9,534.6 L352.0,535.2 L352.9,536.0 L353.8,536.8 L354.7,537.7 L355.5,538.7" fill="none" stroke="#2c2c2c" stroke-width="0.96" stroke-linejoin="round" stroke-linecap="round" />
<path d="M354.2,582.7 L352.2,584.0 L351.1,585.8 L349.9,587.6 L348.7,589.4 L347.5,591.0 L346.2,592.7 L344.9,594.3 L343.6,595.8 L342.2,597.2 L340.8,598.6 L339.4,599.9 L337.9,601.1 L336.5,602.3 L335.0,603.3 L333.6,604.3 L332.1,605.2 L330.6,606.0 L329.2,606.7 L327.7,607.3 L326.3,607.8 L324.9,608.2 L323.5,608.5 L322.1,608.7 L320.8,608.8 L319.4,608.8 L318.2,608.7 L316.9,608.5 L315.7,608.2 L314.6,607.8 L313.5,607.3 L312.5,606.7 L311.5,606.0 L310.5,605.2 L309.7,604.3 L308.9,603.3 L308.0,602.4 L306.1,602.7 L305.5,601.4 L305.5,599.4 L305.0,598.0 L304.0,597.1 L303.6,595.5 L304.1,593.3 L304.7,591.1 L304.6,589.4 L304.5,587.7 L304.6,585.9 L304.7,584.1 L304.9,582.2 L305.2,580.3 L305.6,578.4 L306.0,576.5 L306.5,574.5 L307.1,572.6 L307.7,570.6 L308.4,568.7 L309.2,566.7 L310.1,564.8 L311.0,562.9 L311.9,561.0 L312.9,559.1 L314.0,557.3 L315.1,555.5 L316.3,553.7 L317.5,552.0 L318.7,550.3 L320.0,548.7 L321.4,547.2 L322.7,545.7 L324.1,544.3 L325.5,542.9 L326.9,541.7 L328.4,540.5 L329.8,539.4 L331.3,538.4 L332.8,537.5 L334.3,534.8 L335.8,534.0 L337.4,533.4 L338.8,533.6 L340.4,532.3 L341.9,531.9 L343.3,531.7 L344.2,533.5 L345.5,533.4 L346.8,533.5 L348.0,533.6 L349.3,533.9 L350.4,534.2 L351.6,534.7 L352.6,535.2 L353.6,535.9 L354.6,536.6 L355.5,537.4 L356.4,538.4 L357.1,539.4 L357.8,540.5 L358.5,541.7 L359.1,542.9 L359.6,544.3 L360.0,545.7 L360.4,547.1 L360.6,548.7 L360.9,550.3 L361.0,552.0 L361.1,553.7 L361.0,555.4 L360.9,557.2 L360.8,559.1 L360.5,560.9 L360.2,562.8 L359.8,564.8 L359.3,566.7 L358.8,568.6 L359.0,570.6 L358.8,572.6 L358.0,574.7 L356.7,576.6 L356.3,578.8 L355.3,580.8 L354.2,582.7Z" fill="none" stroke="#2c2c2c" stroke-width="1.08" stroke-linejoin="round" stroke-linecap="round" />
<ellipse cx="332.8" cy="571.1" rx="16.7" ry="29.2" fill="none" stroke="#2c2c2c" stroke-width="1.08" transform="rotate(28.5 332.8 571.1)" />
<path d="M345.5,544.9 L346.6,545.2 L347.7,545.7 L348.7,546.2 L349.6,546.9 L350.5,547.6 L351.3,548.5 L352.0,549.5 L352.6,550.6 L353.2,551.8 L353.6,553.1 L354.0,554.5 L354.3,555.9 L354.4,557.5 L354.5,559.0 L354.5,560.7 L354.4,562.4 L354.2,564.2 L353.9,565.9 L353.5,567.7 L353.1,569.6 L352.5,571.4 L351.9,573.3 L351.1,575.1 L350.3,576.9 L349.4,578.7 L348.5,580.4 L347.5,582.2 L346.4,583.8 L345.3,585.4 L344.1,587.0 L342.8,588.4 L341.6,589.8 L340.2,591.1 L338.9,592.4 L337.5,593.5 L336.2,594.5 L334.8,595.4 L333.4,596.2 L332.0,596.9 L330.7,597.4 L329.3,597.9 L328.0,598.2 L326.7,598.4 L325.4,598.5 L324.2,598.4 L323.0,598.2 L321.9,597.9 L320.8,597.5 L319.8,596.9 L318.9,596.3 L318.0,595.5" fill="none" stroke="#2c2c2c" stroke-width="0.84" stroke-linejoin="round" stroke-linecap="round" />
<line x1="74.8" y1="410.6" x2="94.3" y2="422.7" stroke="#333" stroke-width="0.96" />
<line x1="118.1" y1="438.8" x2="137.2" y2="450.6" stroke="#333" stroke-width="0.96" />
<line x1="146.8" y1="455.4" x2="180.4" y2="476.2" stroke="#333" stroke-width="0.96" />
<line x1="204.1" y1="492.2" x2="223.2" y2="504.1" stroke="#333" stroke-width="0.96" />
<line x1="290.1" y1="545.8" x2="309.2" y2="557.6" stroke="#333" stroke-width="0.96" />
<line x1="331.5" y1="570.3" x2="362.6" y2="589.5" stroke="#333" stroke-width="0.96" />
<path d="M235,452 L202,558" fill="none" stroke="#9a9a9a" stroke-width="0.84" stroke-linejoin="round" stroke-linecap="round" />
<path d="M240,456 L207,560" fill="none" stroke="#9a9a9a" stroke-width="0.84" stroke-linejoin="round" stroke-linecap="round" />
<path d="M210.6,498.6 L227.4,521.4" fill="none" stroke="#333" stroke-width="1.32" stroke-linejoin="round" stroke-linecap="round" />
<line x1="231.6" y1="508.6" x2="266.0" y2="528.0" stroke="#333" stroke-width="0.96" />
<line x1="258.5" y1="383.5" x2="146.0" y2="419.5" stroke="#1a1a1a" stroke-width="1.38" />
<line x1="258.5" y1="383.5" x2="220.2" y2="451.6" stroke="#1a1a1a" stroke-width="1.38" />
<line x1="258.5" y1="383.5" x2="286.0" y2="510.0" stroke="#1a1a1a" stroke-width="1.38" />
<line x1="125.6" y1="592.6" x2="75.4" y2="446.5" stroke="#1a1a1a" stroke-width="1.38" />
<line x1="125.6" y1="592.6" x2="141.8" y2="501.4" stroke="#1a1a1a" stroke-width="1.38" />
<line x1="125.6" y1="592.6" x2="219.4" y2="548.4" stroke="#1a1a1a" stroke-width="1.38" />
<line x1="125.6" y1="592.6" x2="304.0" y2="600.0" stroke="#1a1a1a" stroke-width="1.38" />
<circle cx="112.4" cy="605" r="20.6" fill="none" stroke="#d4172a" stroke-width="3"/>
<ellipse cx="284.4" cy="243.9" rx="18.0" ry="32.2" fill="none" stroke="#111" stroke-width="2.28" transform="rotate(26 284.4 243.9)" />
<ellipse cx="300.8" cy="250.7" rx="18.0" ry="32.2" fill="none" stroke="#111" stroke-width="2.1" transform="rotate(26 300.8 250.7)" />
<ellipse cx="332.6" cy="269.4" rx="16.2" ry="28.7" fill="none" stroke="#111" stroke-width="1.92" transform="rotate(26 332.6 269.4)" />
<ellipse cx="345.6" cy="277.1" rx="16.2" ry="28.7" fill="none" stroke="#111" stroke-width="2.7" transform="rotate(26 345.6 277.1)" />
<line x1="239.3" y1="206.7" x2="262.4" y2="222.9" stroke="#444" stroke-width="0.9" />
<line x1="270.1" y1="228.6" x2="295.9" y2="245.3" stroke="#444" stroke-width="0.9" />
<line x1="303.8" y1="251.0" x2="305.8" y2="252.3" stroke="#444" stroke-width="0.9" />
<line x1="315.1" y1="258.1" x2="340.9" y2="273.6" stroke="#444" stroke-width="0.9" />
<line x1="349.9" y1="280.0" x2="362.7" y2="287.2" stroke="#444" stroke-width="0.9" />
<line x1="263.0" y1="265.9" x2="250.0" y2="276.6" stroke="#1a1a1a" stroke-width="1.44" />
<line x1="281.6" y1="278.9" x2="270.8" y2="292.5" stroke="#1a1a1a" stroke-width="1.44" />
<line x1="315.9" y1="295.6" x2="303.0" y2="311.0" stroke="#1a1a1a" stroke-width="1.44" />
<line x1="330.8" y1="303.1" x2="319.6" y2="328.5" stroke="#1a1a1a" stroke-width="1.44" />
<path d="M221.4,240.0 L220.1,239.7 L218.7,239.1 L217.5,238.5 L216.3,237.7 L215.2,236.7 L214.2,235.6 L213.3,234.4 L212.5,233.0 L211.7,231.6 L211.1,230.0 L210.5,228.3 L210.0,226.5 L209.7,224.7 L209.5,222.7 L209.3,220.7 L209.3,218.6 L209.4,216.5 L209.6,214.3 L209.9,212.1 L210.3,209.9 L210.8,207.7 L211.4,205.4 L212.1,203.2 L212.9,201.0 L213.8,198.9 L214.7,196.8 L215.8,194.7 L216.9,192.7 L218.1,190.7 L219.4,188.9 L220.7,187.1 L222.1,185.5 L223.5,183.9 L225.0,182.5 L226.5,181.1 L228.1,179.9 L229.6,178.9 L231.2,177.9 L232.7,177.2 L234.3,176.5 L235.9,176.0 L237.4,175.7 L238.9,175.5 L240.4,175.4 L241.8,175.6 L243.2,175.8 L244.6,176.2 L245.8,176.8 L247.1,177.5 L248.2,178.4" fill="none" stroke="#2c2c2c" stroke-width="1.08" stroke-linejoin="round" stroke-linecap="round" />
<path d="M223.4,239.5 L222.1,239.2 L220.8,238.7 L219.6,238.0 L218.5,237.2 L217.4,236.3 L216.4,235.2 L215.5,234.0 L214.7,232.7 L214.0,231.3 L213.3,229.8 L212.8,228.1 L212.4,226.4 L212.0,224.6 L211.8,222.7 L211.6,220.7 L211.6,218.7 L211.7,216.6 L211.9,214.5 L212.2,212.3 L212.6,210.2 L213.1,208.0 L213.6,205.8 L214.3,203.7 L215.1,201.5 L216.0,199.4 L216.9,197.3 L217.9,195.3 L219.1,193.4 L220.2,191.5 L221.5,189.7 L222.8,188.0 L224.1,186.3 L225.5,184.8 L226.9,183.4 L228.4,182.1 L229.9,181.0 L231.4,179.9 L232.9,179.0 L234.5,178.2 L236.0,177.6 L237.5,177.1 L239.0,176.8 L240.5,176.6 L241.9,176.6 L243.3,176.7 L244.7,177.0 L246.0,177.4 L247.3,177.9 L248.4,178.6 L249.6,179.5" fill="none" stroke="#2c2c2c" stroke-width="0.84" stroke-linejoin="round" stroke-linecap="round" />
<path d="M225.3,239.5 L224.0,239.2 L222.7,238.7 L221.5,238.0 L220.4,237.3 L219.3,236.3 L218.4,235.3 L217.5,234.1 L216.6,232.8 L215.9,231.4 L215.3,229.9 L214.8,228.2 L214.3,226.5 L214.0,224.7 L213.8,222.8 L213.6,220.9 L213.6,218.9 L213.7,216.8 L213.9,214.7 L214.1,212.6 L214.5,210.5 L215.0,208.3 L215.6,206.2 L216.3,204.0 L217.0,201.9 L217.9,199.8 L218.8,197.8 L219.9,195.8 L221.0,193.9 L222.1,192.0 L223.3,190.2 L224.6,188.5 L226.0,186.9 L227.3,185.4 L228.8,184.0 L230.2,182.7 L231.7,181.6 L233.2,180.5 L234.7,179.6 L236.2,178.9 L237.7,178.3 L239.2,177.8 L240.7,177.4 L242.2,177.3 L243.6,177.2 L245.0,177.3 L246.3,177.6 L247.6,178.0 L248.9,178.5 L250.0,179.2 L251.1,180.1" fill="none" stroke="#2c2c2c" stroke-width="0.84" stroke-linejoin="round" stroke-linecap="round" />
<path d="M227.0,239.9 L225.7,239.5 L224.5,239.0 L223.3,238.4 L222.1,237.6 L221.1,236.6 L220.1,235.6 L219.2,234.4 L218.4,233.1 L217.7,231.7 L217.0,230.2 L216.5,228.6 L216.1,226.8 L215.7,225.0 L215.5,223.2 L215.4,221.2 L215.3,219.2 L215.4,217.1 L215.6,215.1 L215.9,212.9 L216.3,210.8 L216.8,208.6 L217.3,206.5 L218.0,204.4 L218.8,202.2 L219.7,200.1 L220.6,198.1 L221.6,196.1 L222.7,194.2 L223.9,192.3 L225.1,190.5 L226.4,188.8 L227.7,187.2 L229.1,185.7 L230.5,184.3 L232.0,183.0 L233.5,181.9 L234.9,180.8 L236.5,180.0 L238.0,179.2 L239.5,178.6 L241.0,178.1 L242.5,177.8 L243.9,177.6 L245.3,177.5 L246.7,177.7 L248.1,177.9 L249.4,178.3 L250.6,178.9 L251.8,179.6 L252.9,180.4" fill="none" stroke="#2c2c2c" stroke-width="0.84" stroke-linejoin="round" stroke-linecap="round" />
<path d="M228.7,240.3 L227.4,240.0 L226.2,239.5 L224.9,238.8 L223.8,238.0 L222.8,237.1 L221.8,236.1 L220.9,234.9 L220.0,233.6 L219.3,232.1 L218.7,230.6 L218.1,229.0 L217.7,227.2 L217.4,225.4 L217.1,223.5 L217.0,221.6 L217.0,219.6 L217.1,217.5 L217.2,215.4 L217.5,213.3 L217.9,211.1 L218.4,209.0 L219.0,206.8 L219.7,204.6 L220.4,202.5 L221.3,200.4 L222.3,198.4 L223.3,196.4 L224.4,194.4 L225.5,192.5 L226.8,190.7 L228.1,189.0 L229.4,187.4 L230.8,185.9 L232.2,184.5 L233.7,183.2 L235.2,182.1 L236.7,181.0 L238.2,180.1 L239.7,179.4 L241.2,178.7 L242.7,178.3 L244.2,177.9 L245.7,177.7 L247.1,177.7 L248.5,177.8 L249.9,178.1 L251.2,178.5 L252.4,179.0 L253.6,179.7 L254.7,180.6" fill="none" stroke="#2c2c2c" stroke-width="0.84" stroke-linejoin="round" stroke-linecap="round" />
<path d="M230.3,241.1 L229.0,240.8 L227.7,240.3 L226.5,239.6 L225.3,238.8 L224.2,237.9 L223.2,236.8 L222.3,235.6 L221.5,234.3 L220.8,232.8 L220.1,231.3 L219.6,229.6 L219.1,227.8 L218.8,226.0 L218.6,224.1 L218.4,222.1 L218.4,220.1 L218.5,218.0 L218.7,215.8 L218.9,213.7 L219.3,211.5 L219.8,209.3 L220.4,207.1 L221.1,204.9 L221.9,202.7 L222.8,200.6 L223.7,198.5 L224.8,196.5 L225.9,194.5 L227.1,192.6 L228.3,190.8 L229.7,189.0 L231.0,187.4 L232.4,185.9 L233.9,184.4 L235.4,183.1 L236.9,182.0 L238.4,180.9 L239.9,180.0 L241.5,179.2 L243.0,178.6 L244.6,178.1 L246.1,177.8 L247.6,177.6 L249.0,177.5 L250.4,177.6 L251.8,177.9 L253.1,178.3 L254.4,178.9 L255.6,179.6 L256.7,180.4" fill="none" stroke="#2c2c2c" stroke-width="0.84" stroke-linejoin="round" stroke-linecap="round" />
<path d="M227.1,240.2 L225.9,239.4 L224.7,238.5 L223.7,237.4 L222.8,236.2 L221.9,234.9 L221.1,233.4 L220.4,231.9 L219.9,230.2 L219.4,228.4 L219.0,226.5 L218.8,224.6 L218.6,222.5 L218.6,220.4 L218.7,218.3 L218.9,216.1 L219.1,213.9 L219.5,211.7 L220.0,209.4 L220.6,207.2 L221.3,204.9 L222.2,202.7 L223.0,200.5 L224.0,198.4 L225.1,196.3 L226.2,194.3 L227.5,192.3 L228.7,190.5 L230.1,188.7 L231.5,187.0 L232.9,185.4 L234.4,184.0 L235.9,182.7 L237.5,181.5 L239.0,180.4 L240.6,179.5 L242.2,178.7 L243.8,178.1 L245.4,177.6 L246.9,177.3" fill="none" stroke="#222" stroke-width="2.16" stroke-linejoin="round" stroke-linecap="round" />
<ellipse cx="242.6" cy="209.8" rx="20.4" ry="34.0" fill="none" stroke="#222" stroke-width="1.08" transform="rotate(22 242.6 209.8)" />
<path d="M228.3,237.5 L227.3,236.6 L226.4,235.6 L225.6,234.4 L224.8,233.2 L224.1,231.8 L223.6,230.3 L223.1,228.7 L222.7,227.1 L222.4,225.3 L222.2,223.5 L222.1,221.6 L222.2,219.7 L222.3,217.7 L222.5,215.7 L222.8,213.6 L223.2,211.5 L223.7,209.5 L224.3,207.4 L224.9,205.3 L225.7,203.3 L226.5,201.2 L227.5,199.3 L228.5,197.3 L229.5,195.5 L230.7,193.7 L231.9,192.0 L233.1,190.3 L234.4,188.8 L235.7,187.3 L237.1,186.0 L238.5,184.8 L239.9,183.7 L241.3,182.7 L242.7,181.9 L244.2,181.2 L245.6,180.6 L247.0,180.2 L248.4,179.9 L249.8,179.7 L251.1,179.7 L252.4,179.9 L253.7,180.1 L254.9,180.6 L256.0,181.1 L257.1,181.8 L258.1,182.7 L259.1,183.6 L259.9,184.7 L260.7,185.9 L261.4,187.3 L262.0,188.7 L262.5,190.2 L263.0,191.9 L263.3,193.6 L263.5,195.4 L263.6,197.2 L263.7,199.1 L263.6,201.1" fill="none" stroke="#444" stroke-width="0.72" stroke-linejoin="round" stroke-linecap="round" />
<path d="M222.3,184.5 L223.3,189.8 L226.3,188.2" fill="none" stroke="#2c2c2c" stroke-width="0.96" stroke-linejoin="round" stroke-linecap="round" />
<path d="M209.4,216.8 L208.6,225 L210.4,227.8" fill="none" stroke="#2c2c2c" stroke-width="0.96" stroke-linejoin="round" stroke-linecap="round" />
<path d="M239.6,198 C241,196.6 243.5,197.6 245.8,198.2 C248.5,198.6 249.3,200.6 248.3,203.3 C246.6,207.2 247.6,210 246.6,213.2 C245.2,217.3 243.2,218.5 242.6,221.6 C241.7,224.3 238,225.5 236,224 C234.6,222.8 236.2,220.8 234.6,219.6 C232.8,218.4 230.2,220.6 228.6,219 C227.6,217.4 229.8,215.6 232.3,214.6 C236.4,212.8 238.2,209.6 238.3,206.2 C238.3,203 238,199.8 239.6,198 Z" fill="none" stroke="#2a2a2a" stroke-width="1.2" stroke-linejoin="round" stroke-linecap="round" />
<path d="M243.4,199.8 C246,201.2 246.6,204 245.6,207.2 C244.6,210.6 243.8,213.6 242.4,216.2" fill="none" stroke="#2c2c2c" stroke-width="0.84" stroke-linejoin="round" stroke-linecap="round" />
<path d="M246,199 C250.5,201.5 252.8,207 250.8,213 C249,219 245.5,225.5 240.6,229.6 C238.6,231.2 237,229.4 237.4,227.6" fill="none" stroke="#2c2c2c" stroke-width="0.72" stroke-linejoin="round" stroke-linecap="round" />
<ellipse cx="241.5" cy="191.8" rx="1.0" ry="1.5" fill="none" stroke="#2c2c2c" stroke-width="0.84" transform="rotate(22 241.5 191.8)" />
<ellipse cx="244.6" cy="192.3" rx="1.2" ry="1.8" fill="none" stroke="#2c2c2c" stroke-width="0.84" transform="rotate(22 244.6 192.3)" />
<ellipse cx="252.3" cy="195.6" rx="0.8" ry="1.3" fill="none" stroke="#2c2c2c" stroke-width="0.84" transform="rotate(22 252.3 195.6)" />
<ellipse cx="256.2" cy="200.8" rx="1.5" ry="2.4" fill="none" stroke="#2c2c2c" stroke-width="0.84" transform="rotate(22 256.2 200.8)" />
<ellipse cx="255.8" cy="209.4" rx="0.9" ry="1.4" fill="none" stroke="#2c2c2c" stroke-width="0.84" transform="rotate(22 255.8 209.4)" />
<ellipse cx="252.4" cy="218.2" rx="0.9" ry="1.4" fill="none" stroke="#2c2c2c" stroke-width="0.84" transform="rotate(22 252.4 218.2)" />
<ellipse cx="245.0" cy="232.5" rx="1.5" ry="2.3" fill="none" stroke="#2c2c2c" stroke-width="0.84" transform="rotate(22 245.0 232.5)" />
<ellipse cx="241.6" cy="238.0" rx="0.9" ry="1.4" fill="none" stroke="#2c2c2c" stroke-width="0.84" transform="rotate(22 241.6 238.0)" />
<ellipse cx="232.8" cy="230.0" rx="1.5" ry="2.4" fill="none" stroke="#2c2c2c" stroke-width="0.84" transform="rotate(22 232.8 230.0)" />
<ellipse cx="229.8" cy="226.4" rx="0.8" ry="1.2" fill="none" stroke="#2c2c2c" stroke-width="0.84" transform="rotate(22 229.8 226.4)" />
<ellipse cx="233.4" cy="207.6" rx="1.6" ry="2.5" fill="none" stroke="#2c2c2c" stroke-width="0.84" transform="rotate(22 233.4 207.6)" />
<line x1="257.5" y1="202.0" x2="262.0" y2="204.8" stroke="#444" stroke-width="0.72" />
<line x1="251.5" y1="219.2" x2="258.4" y2="223.6" stroke="#444" stroke-width="0.72" />
<line x1="212.6" y1="194.5" x2="215.6" y2="196.3" stroke="#444" stroke-width="0.72" />
<path d="M181.4,219.4 L200.9,208.9 L210.3,214.2" fill="none" stroke="#444" stroke-width="0.84" stroke-linejoin="round" stroke-linecap="round" />
<path d="M249.8,159.8 L218.2,178 L225.2,182.3" fill="none" stroke="#444" stroke-width="0.84" stroke-linejoin="round" stroke-linecap="round" />
<line x1="218.4" y1="139.4" x2="250.0" y2="159.8" stroke="#444" stroke-width="0.84" />
<ellipse cx="224.0" cy="142.6" rx="1.9" ry="2.7" fill="#ddd" stroke="#222" stroke-width="1.02" transform="rotate(30 224.0 142.6)" />
<ellipse cx="226.2" cy="143.9" rx="1.7" ry="2.4" fill="#eee" stroke="#222" stroke-width="1.02" transform="rotate(30 226.2 143.9)" />
<path d="M227.0,142.2 L230.4,144.3 M225.6,146.4 L229.0,148.4" fill="none" stroke="#2c2c2c" stroke-width="0.96" stroke-linejoin="round" stroke-linecap="round" />
<path d="M230.7,144.6 L230.8,144.7 L231.0,144.8 L231.0,145.0 L231.1,145.3 L231.1,145.5 L231.0,145.8 L231.0,146.1 L230.9,146.4 L230.7,146.7 L230.6,147.0 L230.4,147.3 L230.2,147.5 L230.0,147.7 L229.7,147.9 L229.5,148.0 L229.3,148.1 L229.1,148.1 L228.9,148.1 L228.7,148.0" fill="none" stroke="#2c2c2c" stroke-width="0.96" stroke-linejoin="round" stroke-linecap="round" />
<g transform="translate(0.3,0.9)">
<path d="M236.8,154.1 L236.6,153.9 L236.3,153.6 L236.2,153.3 L236.1,152.9 L236.0,152.4 L236.0,152.0 L236.1,151.5 L236.3,151.0 L236.5,150.6 L236.7,150.1 L237.0,149.7 L237.4,149.4 L237.7,149.1 L238.1,148.8 L238.5,148.6 L238.9,148.5 L239.3,148.5 L239.6,148.6 L240.0,148.7" fill="none" stroke="#2c2c2c" stroke-width="1.08" stroke-linejoin="round" stroke-linecap="round" />
<path d="M239.9,148.7 L246.2,152.6 M236.9,154.1 L243.2,158" fill="none" stroke="#2c2c2c" stroke-width="1.08" stroke-linejoin="round" stroke-linecap="round" />
<ellipse cx="244.7" cy="155.3" rx="2.1" ry="3.1" fill="#e4e4e4" stroke="#222" stroke-width="1.08" transform="rotate(30 244.7 155.3)" />
<ellipse cx="244.9" cy="155.4" rx="1.1" ry="1.8" fill="none" stroke="#555" stroke-width="0.72" transform="rotate(30 244.9 155.4)" />
</g>
<g transform="translate(1.1,1.6)">
<ellipse cx="150.2" cy="199.9" rx="2.3" ry="3.6" fill="#f4f4f4" stroke="#222" stroke-width="1.08" transform="rotate(30 150.2 199.9)" />
<path d="M151.8,196.6 L155.4,198.8 M148.4,203.0 L152.0,205.2" fill="none" stroke="#2c2c2c" stroke-width="1.08" stroke-linejoin="round" stroke-linecap="round" />
<path d="M155.6,199.0 L155.9,199.2 L156.1,199.5 L156.3,199.9 L156.4,200.3 L156.5,200.8 L156.5,201.4 L156.3,201.9 L156.2,202.4 L155.9,203.0 L155.6,203.5 L155.3,204.0 L154.9,204.4 L154.5,204.8 L154.0,205.1 L153.6,205.3 L153.2,205.4 L152.7,205.4 L152.4,205.4 L152.0,205.2" fill="none" stroke="#2c2c2c" stroke-width="1.08" stroke-linejoin="round" stroke-linecap="round" />
<path d="M152.4,197.6 L152.0,204.6 M154.0,198.4 L153.6,205.4" fill="none" stroke="#555" stroke-width="0.72" stroke-linejoin="round" stroke-linecap="round" />
<ellipse cx="150.0" cy="199.8" rx="1.3" ry="2.2" fill="none" stroke="#555" stroke-width="0.72" transform="rotate(30 150.0 199.8)" />
<path d="M155.6,200.4 L165.6,206.4 M154.2,203.8 L164.2,209.8" fill="none" stroke="#2c2c2c" stroke-width="1.08" stroke-linejoin="round" stroke-linecap="round" />
<path d="M165.9,206.4 L166.0,206.5 L166.1,206.6 L166.2,206.8 L166.2,207.0 L166.2,207.3 L166.2,207.6 L166.1,207.9 L166.0,208.2 L165.8,208.5 L165.7,208.7 L165.5,209.0 L165.3,209.3 L165.1,209.5 L164.9,209.6 L164.6,209.8 L164.4,209.9 L164.2,209.9 L164.1,209.9 L163.9,209.8" fill="none" stroke="#2c2c2c" stroke-width="1.08" stroke-linejoin="round" stroke-linecap="round" />
<line x1="160.4" y1="203.4" x2="159.2" y2="206.6" stroke="#333" stroke-width="0.84" />
<line x1="161.6" y1="204.1" x2="160.4" y2="207.3" stroke="#333" stroke-width="0.84" />
<line x1="162.8" y1="204.8" x2="161.6" y2="208.0" stroke="#333" stroke-width="0.84" />
<line x1="164.0" y1="205.6" x2="162.8" y2="208.8" stroke="#333" stroke-width="0.84" />
</g>
<ellipse cx="171.4" cy="213.2" rx="1.4" ry="3.0" fill="#ddd" stroke="#2a2a2a" stroke-width="1.2" transform="rotate(30 171.4 213.2)" />
<ellipse cx="173.1" cy="214.2" rx="1.4" ry="3.0" fill="#ddd" stroke="#2a2a2a" stroke-width="1.2" transform="rotate(30 173.1 214.2)" />
<ellipse cx="174.8" cy="215.2" rx="1.4" ry="3.0" fill="#ddd" stroke="#2a2a2a" stroke-width="1.2" transform="rotate(30 174.8 215.2)" />
<ellipse cx="176.5" cy="216.3" rx="1.4" ry="3.0" fill="#ddd" stroke="#2a2a2a" stroke-width="1.2" transform="rotate(30 176.5 216.3)" />
<ellipse cx="178.2" cy="217.3" rx="1.4" ry="3.0" fill="#ddd" stroke="#2a2a2a" stroke-width="1.2" transform="rotate(30 178.2 217.3)" />
<ellipse cx="179.9" cy="218.3" rx="1.4" ry="3.0" fill="#ddd" stroke="#2a2a2a" stroke-width="1.2" transform="rotate(30 179.9 218.3)" />
<line x1="235.3" y1="110.8" x2="227.6" y2="141.4" stroke="#1a1a1a" stroke-width="1.44" />
<line x1="263.6" y1="118.8" x2="243.2" y2="151.6" stroke="#1a1a1a" stroke-width="1.44" />
<line x1="270.8" y1="165.6" x2="256.6" y2="182.0" stroke="#1a1a1a" stroke-width="1.44" />
<line x1="169.0" y1="174.8" x2="162.2" y2="204.4" stroke="#1a1a1a" stroke-width="1.44" />
<line x1="190.4" y1="186.8" x2="177.6" y2="212.0" stroke="#1a1a1a" stroke-width="1.44" />
<line x1="216.0" y1="239.0" x2="199.4" y2="261.4" stroke="#1a1a1a" stroke-width="1.44" />
<circle cx="190.4" cy="273.9" r="14.3" fill="none" stroke="#111" stroke-width="1.1"/>
<line x1="557.0" y1="75.5" x2="557.0" y2="79.5" stroke="#555" stroke-width="0.84" />
<line x1="557.0" y1="89.0" x2="557.0" y2="91.2" stroke="#555" stroke-width="0.84" />
<line x1="557.0" y1="101.3" x2="557.0" y2="103.2" stroke="#555" stroke-width="0.84" />
<line x1="557.0" y1="135.5" x2="557.0" y2="140.5" stroke="#555" stroke-width="0.84" />
<line x1="557.0" y1="180.0" x2="557.0" y2="186.5" stroke="#555" stroke-width="0.84" />
<line x1="557.0" y1="217.5" x2="557.0" y2="219.5" stroke="#555" stroke-width="0.84" />
<line x1="557.0" y1="224.5" x2="557.0" y2="231.0" stroke="#555" stroke-width="0.84" />
<line x1="557.0" y1="239.5" x2="557.0" y2="246.0" stroke="#555" stroke-width="0.84" />
<ellipse cx="556.4" cy="66.9" rx="2.8" ry="1.6" fill="#999" stroke="#222" stroke-width="1.08" />
<path d="M555.1,68.4 L555.3,75 M557.8,68.4 L557.6,75" fill="none" stroke="#2c2c2c" stroke-width="0.96" stroke-linejoin="round" stroke-linecap="round" />
<line x1="555.1" y1="69.8" x2="557.8" y2="70.3" stroke="#333" stroke-width="0.72" />
<line x1="555.1" y1="71.2" x2="557.8" y2="71.7" stroke="#333" stroke-width="0.72" />
<line x1="555.1" y1="72.6" x2="557.8" y2="73.1" stroke="#333" stroke-width="0.72" />
<line x1="555.1" y1="74.0" x2="557.8" y2="74.5" stroke="#333" stroke-width="0.72" />
<path d="M551.2,95 L551.2,97.8 A5.8,3.2 0 0 0 562.8,97.8 L562.8,95" fill="none" stroke="#2c2c2c" stroke-width="1.08" stroke-linejoin="round" stroke-linecap="round" />
<ellipse cx="557.0" cy="95.0" rx="5.8" ry="3.2" fill="none" stroke="#2c2c2c" stroke-width="1.08" />
<ellipse cx="557.0" cy="95.0" rx="2.5" ry="1.4" fill="#ddd" stroke="#333" stroke-width="0.96" />
<ellipse cx="557.0" cy="120.7" rx="4.4" ry="3.0" fill="none" stroke="#111" stroke-width="1.68" />
<path d="M548.7,147 L548.9,153.4 A8.4,5.8 0 0 0 562.8,158.2 L600.2,131.6 L600.4,126.4" fill="none" stroke="#2c2c2c" stroke-width="1.08" stroke-linejoin="round" stroke-linecap="round" />
<path d="M557.4,141.5 L591.2,121.9 A6.2,4.1 0 0 1 599.2,129.2 L564.8,150 A8.4,5.8 0 1 1 557.4,141.5 Z" fill="none" stroke="#2c2c2c" stroke-width="1.08" stroke-linejoin="round" stroke-linecap="round" />
<ellipse cx="557.0" cy="147.4" rx="3.6" ry="2.4" fill="#d8d8d8" stroke="#333" stroke-width="1.08" />
<path d="M553.6,148.2 A3.6,2.4 0 0 0 560.5,148.2" fill="none" stroke="#555" stroke-width="0.84" stroke-linejoin="round" stroke-linecap="round" />
<ellipse cx="594.3" cy="125.7" rx="2.7" ry="1.8" fill="#eee" stroke="#333" stroke-width="0.96" />
<path d="M586.6,128.2 L590.2,131.2" fill="none" stroke="#555" stroke-width="0.84" stroke-linejoin="round" stroke-linecap="round" />
<path d="M550.5,151.5 A8.4,5.8 0 0 0 563.6,151" fill="none" stroke="#666" stroke-width="0.72" stroke-linejoin="round" stroke-linecap="round" />
<path d="M592.6,161.2 A2.4,1.4 0 0 1 597.4,161.2 L597.4,164.4 L592.6,164.4 Z" fill="#9a9a9a" stroke="#222" stroke-width="1.08" stroke-linejoin="round" stroke-linecap="round" />
<path d="M593.8,164.6 L593.8,171.4 L596.2,171.4 L596.2,164.6" fill="none" stroke="#2c2c2c" stroke-width="0.96" stroke-linejoin="round" stroke-linecap="round" />
<line x1="593.8" y1="166.0" x2="596.2" y2="166.4" stroke="#333" stroke-width="0.72" />
<line x1="593.8" y1="167.4" x2="596.2" y2="167.8" stroke="#333" stroke-width="0.72" />
<line x1="593.8" y1="168.8" x2="596.2" y2="169.2" stroke="#333" stroke-width="0.72" />
<line x1="593.8" y1="170.2" x2="596.2" y2="170.6" stroke="#333" stroke-width="0.72" />
<path d="M595,171.6 L595,177.5 L564.4,177.5 L564.4,184.8" fill="none" stroke="#555" stroke-width="0.84" stroke-linejoin="round" stroke-linecap="round" />
<path d="M541.2,192.2 L541.6,201.6 C545,206.6 553,209 561.2,207.6" fill="none" stroke="#2c2c2c" stroke-width="1.08" stroke-linejoin="round" stroke-linecap="round" />
<path d="M548.1,207.2 L548.5,214 A9,3.4 0 0 0 566.2,213.6 L566.5,207.4" fill="none" stroke="#2c2c2c" stroke-width="1.08" stroke-linejoin="round" stroke-linecap="round" />
<path d="M546.8,199.1 L545.8,198.6 L544.9,198.1 L544.1,197.4 L543.4,196.8 L542.8,196.1 L542.3,195.4 L541.8,194.6 L541.5,193.8 L541.3,193.1 L541.2,192.3 L541.2,191.5 L541.3,190.7 L541.6,189.9 L541.9,189.1 L542.3,188.4 L542.8,187.6 L543.5,186.9 L544.2,186.3 L545.0,185.7 L545.9,185.1 L546.9,184.6 L547.9,184.1 L549.0,183.7 L550.1,183.4 L551.3,183.1 L552.5,182.9 L553.8,182.8 L555.0,182.7 L556.3,182.7 L557.5,182.8 L558.8,182.9 L560.0,183.1 L561.2,183.4 L562.3,183.7 L563.4,184.1 L564.4,184.6 L565.4,185.1 L566.3,185.6 L567.1,186.2" fill="none" stroke="#2c2c2c" stroke-width="1.08" stroke-linejoin="round" stroke-linecap="round" />
<path d="M546.2,197.3 L545.6,196.8 L545.0,196.2 L544.5,195.7 L544.1,195.0 L543.8,194.4 L543.5,193.8 L543.4,193.1 L543.3,192.5 L543.3,191.8 L543.4,191.1 L543.6,190.5 L543.9,189.9 L544.3,189.2 L544.8,188.7 L545.3,188.1 L545.9,187.5 L546.6,187.0 L547.4,186.6 L548.2,186.1 L549.0,185.8 L549.9,185.4 L550.9,185.1 L551.9,184.9 L552.9,184.7 L554.0,184.6 L555.0,184.5 L556.1,184.5 L557.2,184.5 L558.2,184.6 L559.3,184.8 L560.3,185.0 L561.3,185.2 L562.2,185.5" fill="none" stroke="#555" stroke-width="0.72" stroke-linejoin="round" stroke-linecap="round" />
<ellipse cx="556.3" cy="191.9" rx="6.4" ry="4.2" fill="none" stroke="#2c2c2c" stroke-width="0.96" />
<ellipse cx="556.5" cy="192.1" rx="3.9" ry="2.6" fill="#e4e4e4" stroke="#333" stroke-width="0.96" />
<ellipse cx="548.6" cy="188.0" rx="1.2" ry="0.9" fill="none" stroke="#2c2c2c" stroke-width="0.84" />
<ellipse cx="564.0" cy="187.3" rx="1.2" ry="0.9" fill="none" stroke="#2c2c2c" stroke-width="0.84" />
<ellipse cx="548.0" cy="197.6" rx="1.2" ry="0.9" fill="none" stroke="#2c2c2c" stroke-width="0.84" />
<path d="M561.4,194.6 Q561.2,193 562.8,192 L573,185.4 Q575.2,184.2 576,186.6 L576.2,196.6 Q576.2,197.8 575,198.6 L563.6,206.4 Q561,207 560.7,205 Z" fill="#fff" stroke="#222" stroke-width="1.2" stroke-linejoin="round" stroke-linecap="round" />
<path d="M562.6,195.4 L562.2,204.2 L563.6,204.8 L574.6,197.2" fill="none" stroke="#666" stroke-width="0.72" stroke-linejoin="round" stroke-linecap="round" />
<ellipse cx="568.7" cy="195.2" rx="1.0" ry="1.2" fill="none" stroke="#2c2c2c" stroke-width="0.96" />
<line x1="569.8" y1="195.8" x2="595.6" y2="211.8" stroke="#555" stroke-width="0.84" />
<ellipse cx="596.4" cy="212.4" rx="1.0" ry="2.2" fill="#d8d8d8" stroke="#3a3a3a" stroke-width="0.9" transform="rotate(30 596.4 212.4)" />
<ellipse cx="597.6" cy="213.1" rx="1.0" ry="2.2" fill="#d8d8d8" stroke="#3a3a3a" stroke-width="0.9" transform="rotate(30 597.6 213.1)" />
<ellipse cx="598.9" cy="213.8" rx="1.0" ry="2.2" fill="#d8d8d8" stroke="#3a3a3a" stroke-width="0.9" transform="rotate(30 598.9 213.8)" />
<ellipse cx="600.1" cy="214.6" rx="1.0" ry="2.2" fill="#d8d8d8" stroke="#3a3a3a" stroke-width="0.9" transform="rotate(30 600.1 214.6)" />
<ellipse cx="601.4" cy="215.3" rx="1.0" ry="2.2" fill="#d8d8d8" stroke="#3a3a3a" stroke-width="0.9" transform="rotate(30 601.4 215.3)" />
<ellipse cx="602.6" cy="216.0" rx="1.0" ry="2.2" fill="#d8d8d8" stroke="#3a3a3a" stroke-width="0.9" transform="rotate(30 602.6 216.0)" />
<ellipse cx="603.9" cy="216.7" rx="1.0" ry="2.2" fill="#d8d8d8" stroke="#3a3a3a" stroke-width="0.9" transform="rotate(30 603.9 216.7)" />
<ellipse cx="608.4" cy="220.2" rx="3.1" ry="3.3" fill="#ccc" stroke="#222" stroke-width="1.08" />
<ellipse cx="608.8" cy="220.4" rx="1.5" ry="1.6" fill="#fff" stroke="#222" stroke-width="0.96" />
<ellipse cx="557.0" cy="234.9" rx="9.3" ry="5.7" fill="none" stroke="#111" stroke-width="1.56" />
<ellipse cx="557.0" cy="260.2" rx="4.5" ry="2.9" fill="none" stroke="#111" stroke-width="1.5" />
<line x1="592.0" y1="42.0" x2="558.6" y2="66.4" stroke="#1a1a1a" stroke-width="1.44" />
<line x1="603.6" y1="79.6" x2="563.2" y2="94.4" stroke="#1a1a1a" stroke-width="1.44" />
<line x1="535.8" y1="116.9" x2="552.4" y2="120.9" stroke="#1a1a1a" stroke-width="1.44" />
<line x1="637.6" y1="126.6" x2="601.0" y2="126.6" stroke="#1a1a1a" stroke-width="1.44" />
<line x1="642.6" y1="160.8" x2="597.6" y2="166.8" stroke="#1a1a1a" stroke-width="1.44" />
<line x1="521.0" y1="182.4" x2="542.0" y2="190.2" stroke="#1a1a1a" stroke-width="1.44" />
<line x1="639.0" y1="192.6" x2="602.0" y2="213.6" stroke="#1a1a1a" stroke-width="1.44" />
<line x1="643.0" y1="215.6" x2="611.6" y2="220.2" stroke="#1a1a1a" stroke-width="1.44" />
<line x1="566.4" y1="236.8" x2="581.4" y2="243.2" stroke="#1a1a1a" stroke-width="1.44" />
<line x1="561.6" y1="261.4" x2="576.2" y2="267.8" stroke="#1a1a1a" stroke-width="1.44" />
<path d="M546.2,320.8 A1.7,1.1 0 0 1 549.6,320.8 L549.6,324.2 L546.2,324.2 Z" fill="#8a8a8a" stroke="#222" stroke-width="1.08" stroke-linejoin="round" stroke-linecap="round" />
<ellipse cx="547.9" cy="320.8" rx="1.7" ry="1.0" fill="#bbb" stroke="#222" stroke-width="0.84" />
<path d="M546.5,325 L546.5,334.4 L547.9,337 L549.3,334.4 L549.3,325 Z" fill="#d8d8d8" stroke="#222" stroke-width="1.02" stroke-linejoin="round" stroke-linecap="round" />
<line x1="547.9" y1="325.0" x2="547.9" y2="334.4" stroke="#666" stroke-width="0.6" />
<line x1="547.9" y1="337.0" x2="547.9" y2="341.4" stroke="#555" stroke-width="0.84" />
<line x1="563.4" y1="318.4" x2="550.0" y2="321.6" stroke="#1a1a1a" stroke-width="1.44" />
<line x1="571.0" y1="336.6" x2="550.0" y2="329.4" stroke="#1a1a1a" stroke-width="1.44" />
<path d="M386.4,309.4 L377.2,304 L383,292.5 C385,287 390,283.6 395,283.6 C399,283.6 402,285.4 403.6,287.6" fill="none" stroke="#2c2c2c" stroke-width="0.96" stroke-linejoin="round" stroke-linecap="round" />
<path d="M387,319.6 L381.2,315.4 L375.9,318.8 L380.6,324.2 L384.4,326.2" fill="none" stroke="#2c2c2c" stroke-width="0.96" stroke-linejoin="round" stroke-linecap="round" />
<ellipse cx="382.6" cy="319.6" rx="1.0" ry="1.3" fill="none" stroke="#2c2c2c" stroke-width="0.84" />
<path d="M377.6,320.6 L381.8,325" fill="none" stroke="#555" stroke-width="0.72" stroke-linejoin="round" stroke-linecap="round" />
<ellipse cx="404.5" cy="313.0" rx="14.9" ry="27.0" fill="#fff" stroke="#222" stroke-width="1.2" transform="rotate(28.4 404.5 313.0)" />
<ellipse cx="405.0" cy="313.2" rx="12.7" ry="24.2" fill="none" stroke="#444" stroke-width="0.84" transform="rotate(28.4 405.0 313.2)" />
<ellipse cx="405.4" cy="313.4" rx="11.5" ry="21.8" fill="none" stroke="#333" stroke-width="0.96" transform="rotate(28.4 405.4 313.4)" />
<ellipse cx="405.9" cy="313.6" rx="10.3" ry="19.8" fill="none" stroke="#333" stroke-width="0.96" transform="rotate(28.4 405.9 313.6)" />
<path d="M406.6,329.2 L405.6,329.9 L404.7,330.6 L403.7,331.1 L402.8,331.6 L401.9,331.9 L401.0,332.2 L400.1,332.4 L399.2,332.5 L398.4,332.5 L397.6,332.4 L396.8,332.3 L396.1,332.0 L395.5,331.6 L394.8,331.2 L394.3,330.7 L393.7,330.1 L393.3,329.4 L392.9,328.6 L392.6,327.8 L392.3,326.9 L392.1,326.0 L391.9,324.9 L391.8,323.8 L391.8,322.7 L391.9,321.5 L392.0,320.3 L392.2,319.1 L392.4,317.8 L392.7,316.5 L393.1,315.2 L393.5,313.9 L394.0,312.6 L394.6,311.3 L395.2,310.0 L395.8,308.7 L396.5,307.4 L397.2,306.2 L398.0,305.0 L398.8,303.9 L399.7,302.7 L400.5,301.7 L401.4,300.7 L402.4,299.7 L403.3,298.9 L404.2,298.1 L405.2,297.3 L406.1,296.7 L407.1,296.1 L408.0,295.6 L409.0,295.2 L409.9,294.9 L410.8,294.7 L411.7,294.5 L412.5,294.5 L413.3,294.5 L414.1,294.7 L414.8,294.9 L415.5,295.2" fill="none" stroke="#333" stroke-width="2.04" stroke-linejoin="round" stroke-linecap="round" />
<path d="M417.4,300.1 L417.7,300.8 L417.9,301.6 L418.1,302.4 L418.2,303.3 L418.3,304.2 L418.3,305.2 L418.3,306.2 L418.2,307.2 L418.1,308.3 L417.9,309.4 L417.6,310.5 L417.3,311.7 L416.9,312.8 L416.5,314.0 L416.1,315.1 L415.6,316.3 L415.0,317.4 L414.4,318.5 L413.8,319.6 L413.1,320.7 L412.4,321.7 L411.7,322.7 L411.0,323.7 L410.2,324.6 L409.4,325.4 L408.6,326.3 L407.8,327.0 L406.9,327.7 L406.1,328.3 L405.3,328.8 L404.5,329.3 L403.7,329.7 L402.9,330.1" fill="none" stroke="#666" stroke-width="0.72" stroke-linejoin="round" stroke-linecap="round" />
<path d="M396.6,305.6 L401.6,302.6 L413.6,310.6 L412.8,313.6 L403.6,307.6 L402.6,312.4" fill="none" stroke="#2c2c2c" stroke-width="0.96" stroke-linejoin="round" stroke-linecap="round" />
<path d="M393.6,314.6 C396,311 399.6,309.6 401.6,310.6 M394.6,318.6 C396.6,316 399,315.4 400.6,316" fill="none" stroke="#444" stroke-width="0.84" stroke-linejoin="round" stroke-linecap="round" />
<path d="M397.6,308.6 L394.6,313.6 M399.6,309 L396.6,315.6" fill="none" stroke="#555" stroke-width="0.72" stroke-linejoin="round" stroke-linecap="round" />
<line x1="373.8" y1="294.2" x2="378.6" y2="297.2" stroke="#444" stroke-width="0.84" />
<line x1="407.2" y1="315.0" x2="422.4" y2="324.2" stroke="#444" stroke-width="0.84" />
<line x1="390.6" y1="335.6" x2="381.4" y2="358.4" stroke="#1a1a1a" stroke-width="1.44" />
<path d="M437.4,268.6 L438.6,266.2 L445.6,270.4 L447.2,273.4 L444.2,272.8 Z" fill="#fff" stroke="#222" stroke-width="1.08" stroke-linejoin="round" stroke-linecap="round" />
<path d="M445.6,270.4 L447.2,273.4 L444.2,272.8 Z" fill="#444" stroke="#222" stroke-width="0.72" stroke-linejoin="round" stroke-linecap="round" />
<line x1="452.8" y1="252.8" x2="443.2" y2="268.0" stroke="#1a1a1a" stroke-width="1.44" />
<ellipse cx="447.4" cy="320.9" rx="2.4" ry="3.7" fill="#eee" stroke="#222" stroke-width="1.2" transform="rotate(30 447.4 320.9)" />
<ellipse cx="447.9" cy="321.2" rx="1.4" ry="2.4" fill="none" stroke="#333" stroke-width="0.84" transform="rotate(30 447.9 321.2)" />
<path d="M449.0,317.9 L450.8,319.0 M446.0,324.1 L447.8,325.2" fill="none" stroke="#2c2c2c" stroke-width="1.08" stroke-linejoin="round" stroke-linecap="round" />
<path d="M451.1,318.8 L451.4,319.0 L451.6,319.4 L451.8,319.8 L451.9,320.2 L452.0,320.7 L452.0,321.3 L451.8,321.8 L451.7,322.4 L451.4,322.9 L451.1,323.5 L450.8,323.9 L450.4,324.4 L449.9,324.8 L449.5,325.1 L449.0,325.3 L448.6,325.4 L448.1,325.4 L447.7,325.4 L447.3,325.2" fill="none" stroke="#2c2c2c" stroke-width="1.08" stroke-linejoin="round" stroke-linecap="round" />
<path d="M450.6,320.3 L454.8,322.8 M449.0,323.5 L453.0,325.9" fill="none" stroke="#2c2c2c" stroke-width="1.08" stroke-linejoin="round" stroke-linecap="round" />
<path d="M454.8,322.8 L455.0,322.9 L455.1,323.0 L455.1,323.2 L455.2,323.4 L455.2,323.7 L455.1,323.9 L455.1,324.2 L455.0,324.5 L454.8,324.8 L454.7,325.0 L454.5,325.3 L454.3,325.5 L454.1,325.7 L453.9,325.9 L453.7,326.0 L453.5,326.1 L453.3,326.1 L453.1,326.1 L452.9,326.0" fill="none" stroke="#2c2c2c" stroke-width="1.08" stroke-linejoin="round" stroke-linecap="round" />
<ellipse cx="445.0" cy="357.6" rx="2.4" ry="3.7" fill="#eee" stroke="#222" stroke-width="1.2" transform="rotate(30 445.0 357.6)" />
<ellipse cx="445.5" cy="357.9" rx="1.4" ry="2.4" fill="none" stroke="#333" stroke-width="0.84" transform="rotate(30 445.5 357.9)" />
<path d="M446.6,354.6 L448.4,355.7 M443.6,360.8 L445.4,361.9" fill="none" stroke="#2c2c2c" stroke-width="1.08" stroke-linejoin="round" stroke-linecap="round" />
<path d="M448.7,355.5 L449.0,355.7 L449.2,356.1 L449.4,356.5 L449.5,356.9 L449.6,357.4 L449.6,358.0 L449.4,358.5 L449.3,359.1 L449.0,359.6 L448.7,360.2 L448.4,360.6 L448.0,361.1 L447.5,361.5 L447.1,361.8 L446.6,362.0 L446.2,362.1 L445.7,362.1 L445.3,362.1 L444.9,361.9" fill="none" stroke="#2c2c2c" stroke-width="1.08" stroke-linejoin="round" stroke-linecap="round" />
<path d="M448.2,357.0 L452.4,359.5 M446.6,360.2 L450.6,362.6" fill="none" stroke="#2c2c2c" stroke-width="1.08" stroke-linejoin="round" stroke-linecap="round" />
<path d="M452.4,359.5 L452.6,359.6 L452.7,359.7 L452.7,359.9 L452.8,360.1 L452.8,360.4 L452.7,360.6 L452.7,360.9 L452.6,361.2 L452.4,361.5 L452.3,361.7 L452.1,362.0 L451.9,362.2 L451.7,362.4 L451.5,362.6 L451.3,362.7 L451.1,362.8 L450.9,362.8 L450.7,362.8 L450.6,362.7" fill="none" stroke="#2c2c2c" stroke-width="1.08" stroke-linejoin="round" stroke-linecap="round" />
<line x1="451.5" y1="326.4" x2="451.5" y2="360.8" stroke="#222" stroke-width="1.38" />
<line x1="455.6" y1="326.2" x2="465.6" y2="332.0" stroke="#555" stroke-width="0.84" />
<line x1="454.2" y1="362.8" x2="462.6" y2="367.4" stroke="#555" stroke-width="0.84" />
<line x1="445.6" y1="363.4" x2="414.6" y2="384.6" stroke="#1a1a1a" stroke-width="1.44" />
<line x1="471.4" y1="299.4" x2="471.4" y2="306.6" stroke="#555" stroke-width="0.84" />
<path d="M466.8,306.6 A4.7,1.7 0 0 1 476.2,306.6 L476.4,320.2 L466.8,320.2 Z" fill="#ececec" stroke="#333" stroke-width="1.08" stroke-linejoin="round" stroke-linecap="round" />
<line x1="468.6" y1="306.2" x2="468.6" y2="320.0" stroke="#8a8a8a" stroke-width="0.6" />
<line x1="470.5" y1="306.2" x2="470.5" y2="320.0" stroke="#8a8a8a" stroke-width="0.6" />
<line x1="472.4" y1="306.2" x2="472.4" y2="320.0" stroke="#8a8a8a" stroke-width="0.6" />
<line x1="474.3" y1="306.2" x2="474.3" y2="320.0" stroke="#8a8a8a" stroke-width="0.6" />
<path d="M467.6,320.4 L466.9,327.2 M475.8,320.4 L476.6,327.2" fill="none" stroke="#2c2c2c" stroke-width="1.08" stroke-linejoin="round" stroke-linecap="round" />
<path d="M467.6,321.6 A4,1.4 0 0 0 475.6,321.6" fill="none" stroke="#2c2c2c" stroke-width="0.84" stroke-linejoin="round" stroke-linecap="round" />
<path d="M466.4,328 C466,331.6 465.8,333.6 465.6,335.8 C464.6,341.6 458.8,347.6 458.5,353.6 C458.3,359.6 464.8,366.8 466.4,373 L467.2,383.6 A4.6,1.8 0 0 0 476.6,383.2 L476.7,378 C478.8,369 486,361 486.6,352.6 C487,346 482.4,341.6 481.8,337 L481.7,330.8 C480,328.6 478,327.6 476.6,327.4" fill="none" stroke="#222" stroke-width="1.2" stroke-linejoin="round" stroke-linecap="round" />
<path d="M466.4,328 A5.2,1.9 0 0 0 476.6,327.6" fill="none" stroke="#2c2c2c" stroke-width="0.96" stroke-linejoin="round" stroke-linecap="round" />
<path d="M465.8,333.4 C469,335.4 475,335.6 478.6,333.6 L481.7,330.8" fill="none" stroke="#444" stroke-width="0.84" stroke-linejoin="round" stroke-linecap="round" />
<path d="M467,378.4 A4.8,1.8 0 0 0 476.7,378" fill="none" stroke="#2c2c2c" stroke-width="0.96" stroke-linejoin="round" stroke-linecap="round" />
<g transform="translate(476 354.5) scale(1.12 1.07) translate(-476 -354.5)">
<path d="M474.6,337.6 C476.6,336.8 478.4,337.4 479.6,339 L485,347.4 C485.8,349 485.6,351 484.6,353 L475.6,369.8 C474.4,371.8 472.4,372 471.2,370.2 L467.2,362.6 C466.4,360.6 466.6,358.4 467.6,356 L472.6,339.8 C473,338.6 473.6,338 474.6,337.6 Z" fill="none" stroke="#222" stroke-width="1.5" stroke-linejoin="round" stroke-linecap="round" />
<path d="M476.4,342.6 C477.4,341.8 478.4,342.2 479.2,343.4 L483,348.2 C483.6,349.2 483.4,350.4 482.8,351.6 L475,366 C474.2,367.4 473,367.4 472.2,366.2 L469.8,361.6 C469.2,360.4 469.3,359 469.8,357.6 L475.2,344 C475.5,343.4 475.8,343 476.4,342.6 Z" fill="none" stroke="#222" stroke-width="1.2" stroke-linejoin="round" stroke-linecap="round" />
<path d="M475.8,343.6 L470,358.2 C469.6,359.6 469.8,360.6 470.4,361.6" fill="none" stroke="#333" stroke-width="1.92" stroke-linejoin="round" stroke-linecap="round" />
</g>
<line x1="476.0" y1="357.0" x2="486.8" y2="362.8" stroke="#444" stroke-width="0.84" />
<path d="M404.8,435.2 L411.2,435.2 L411.2,455.6 L404.8,455.6" fill="none" stroke="#1a1a1a" stroke-width="1.44" stroke-linejoin="round" stroke-linecap="round" />
<line x1="411.2" y1="435.4" x2="468.8" y2="386.6" stroke="#1a1a1a" stroke-width="1.44" />
<line x1="499.6" y1="371.4" x2="506.0" y2="375.2" stroke="#555" stroke-width="0.84" />
<line x1="493.6" y1="417.8" x2="498.8" y2="420.8" stroke="#555" stroke-width="0.84" />
<line x1="536.4" y1="343.2" x2="541.4" y2="346.2" stroke="#555" stroke-width="0.84" />
<path d="M498.2,398.6 C498.6,394 499.8,391 501.4,388 C503,383.6 504.4,380 505.9,376.8 C509,371 513,365.6 517.4,359.7 L538.8,345.6 C541,344.6 543.4,344.4 545.3,345.1 L556,351.2" fill="none" stroke="#282828" stroke-width="1.08" stroke-linejoin="round" stroke-linecap="round" />
<path d="M498.2,398.6 L498.1,418.4 C498.6,421.6 499.4,423 500.3,424.3 L503.7,427.7 L521.7,440.6 L532.8,444.2 L538,443.2 L541.4,439.8" fill="none" stroke="#282828" stroke-width="1.08" stroke-linejoin="round" stroke-linecap="round" />
<path d="M517.4,359.7 L536.7,369.6 M505.9,376.8 L510.4,379.2" fill="none" stroke="#282828" stroke-width="0.96" stroke-linejoin="round" stroke-linecap="round" />
<path d="M536.7,369.6 C534.6,373 533,376.6 532,379.4 C529.6,383.6 527.6,387.6 526,391.4 C523,397 520,402 517.6,403.6 L517.4,432.6 L521.4,432.8 L521.7,440.6" fill="none" stroke="#282828" stroke-width="0.96" stroke-linejoin="round" stroke-linecap="round" />
<path d="M515.8,404 L515.7,431.4" fill="none" stroke="#555" stroke-width="0.72" stroke-linejoin="round" stroke-linecap="round" />
<path d="M503.7,426 L517.4,432.4" fill="none" stroke="#444" stroke-width="0.84" stroke-linejoin="round" stroke-linecap="round" />
<path d="M499.6,423.6 L503.8,426.6" fill="none" stroke="#555" stroke-width="0.72" stroke-linejoin="round" stroke-linecap="round" />
<path d="M514.9,369.1 L532.8,377.7 L526.8,386.7 L510.1,377.7 Z" fill="none" stroke="#282828" stroke-width="1.08" stroke-linejoin="round" stroke-linecap="round" />
<path d="M515.6,371.4 L530,378.4 L527.6,382 L513,374.8" fill="none" stroke="#555" stroke-width="0.72" stroke-linejoin="round" stroke-linecap="round" />
<path d="M511.6,378.8 L526,385.4" fill="none" stroke="#666" stroke-width="0.72" stroke-linejoin="round" stroke-linecap="round" />
<path d="M507.1,384.1 L524.3,391.4 L521.6,400.6 L503.7,392.7 Z" fill="none" stroke="#282828" stroke-width="1.08" stroke-linejoin="round" stroke-linecap="round" />
<path d="M507.8,386.4 L522,392.6 L520.6,396.4 L505.8,389.8" fill="none" stroke="#555" stroke-width="0.72" stroke-linejoin="round" stroke-linecap="round" />
<path d="M504.8,393.4 L520.4,400" fill="none" stroke="#666" stroke-width="0.72" stroke-linejoin="round" stroke-linecap="round" />
<ellipse cx="505.5" cy="416.6" rx="3.4" ry="4.7" fill="none" stroke="#222" stroke-width="1.56" transform="rotate(-15 505.5 416.6)" />
<ellipse cx="505.9" cy="416.8" rx="2.3" ry="3.5" fill="none" stroke="#555" stroke-width="0.72" transform="rotate(-15 505.9 416.8)" />
<ellipse cx="533.0" cy="377.4" rx="1.1" ry="1.7" fill="none" stroke="#282828" stroke-width="0.84" transform="rotate(-15 533.0 377.4)" />
<ellipse cx="524.4" cy="390.4" rx="1.1" ry="1.7" fill="none" stroke="#282828" stroke-width="0.84" transform="rotate(-15 524.4 390.4)" />
<ellipse cx="519.6" cy="405.0" rx="1.1" ry="1.7" fill="none" stroke="#282828" stroke-width="0.84" transform="rotate(-15 519.6 405.0)" />
<ellipse cx="519.6" cy="429.0" rx="1.1" ry="1.7" fill="none" stroke="#282828" stroke-width="0.84" transform="rotate(-15 519.6 429.0)" />
<ellipse cx="524.3" cy="437.1" rx="1.0" ry="1.5" fill="none" stroke="#282828" stroke-width="0.84" transform="rotate(-20 524.3 437.1)" />
<ellipse cx="527.7" cy="439.3" rx="1.0" ry="1.5" fill="none" stroke="#282828" stroke-width="0.84" transform="rotate(-20 527.7 439.3)" />
<ellipse cx="532.6" cy="440.2" rx="1.0" ry="1.5" fill="none" stroke="#282828" stroke-width="0.84" transform="rotate(-20 532.6 440.2)" />
<path d="M538.6,372 C535,376.6 531.6,383 529.4,390 C526.6,397 524.8,403 524.3,403 C522.4,408 521.7,412 521.7,415.7 C521.6,420 522,423.6 522.6,426 C523.6,429 525,431.2 526.8,432.9 C529,435.2 531.6,436.8 534.6,438" fill="none" stroke="#282828" stroke-width="0.96" stroke-linejoin="round" stroke-linecap="round" />
<path d="M541.4,373.8 C538,378.4 534.8,384 532.8,390 C530.4,396 528.4,401 527.7,403 C526,408 525.2,412 525.1,415.7 C525,420 525.6,424 526.8,426.9 C528,430 530,432 532.8,433.7 L540.6,437.8" fill="none" stroke="#666" stroke-width="0.72" stroke-linejoin="round" stroke-linecap="round" />
<path d="M572.2,375.2 L588.8,384.2 C594,387.2 598,390 600.4,392.4 C604,396 606,398.6 606.8,400.2 C608.6,404 609.4,407 609.8,410.4 L612.6,414.2" fill="none" stroke="#333" stroke-width="0.86" stroke-linejoin="round" stroke-linecap="round" />
<g transform="translate(0,0.3)">
<path d="M584.4,396.4 C579,397.6 575,399.4 572.1,401.4 C568.6,404 566,407 564.4,410.4 C562,415.4 560.8,419.6 560.6,423.4 C559.8,430 560.4,437 562.4,442 C563.6,446 565.6,450.4 568,453.2 L573.6,455.9" fill="none" stroke="#333" stroke-width="0.86" stroke-linejoin="round" stroke-linecap="round" />
<path d="M576.4,403.4 L575.2,405 M568.6,413.6 L567.4,416.6" fill="none" stroke="#444" stroke-width="0.84" stroke-linejoin="round" stroke-linecap="round" />
<path d="M541,440.2 L551.4,445.8 L564.4,453.2 L573.6,455.9 C578,456.4 581,455.6 582.9,455" fill="none" stroke="#282828" stroke-width="1.08" stroke-linejoin="round" stroke-linecap="round" />
<path d="M612.6,414.2 C609,410.6 605,408.6 601.4,408.6 C597.4,409.2 593.4,411.4 590.3,414.2 C587,417.4 585,421 583.8,425.4 C582.4,429.4 581.8,433 581.9,436.4 C582,441 583,444.6 584.7,447.6 C586.4,450.4 588,452 590.3,453.2 C593,454.6 595.4,455.2 597.6,455.6" fill="none" stroke="#333" stroke-width="0.86" stroke-linejoin="round" stroke-linecap="round" />
<path d="M602.4,411.2 C598.4,412 595.4,413.8 592.6,416.4 C589.6,419.4 587.6,423 586.4,427 C585,431 584.6,434.4 584.7,437.6 C584.8,441.6 585.8,445 587.4,447.6" fill="none" stroke="#666" stroke-width="0.72" stroke-linejoin="round" stroke-linecap="round" />
</g>
<g transform="translate(1,1)">
<path d="M558,386 L574.2,377.6 L589.6,388.6 L574.8,397 Z" fill="none" stroke="#282828" stroke-width="0.96" stroke-linejoin="round" stroke-linecap="round" />
<path d="M560.6,386.2 L574,379.4 L587,388.6 L574.8,395.2 Z" fill="none" stroke="#555" stroke-width="0.72" stroke-linejoin="round" stroke-linecap="round" />
<path d="M558,386 L558.2,387.6 L574.8,398.6 L589.6,390.2 L589.6,388.6" fill="none" stroke="#555" stroke-width="0.72" stroke-linejoin="round" stroke-linecap="round" />
</g>
<g transform="translate(0,1.2)">
<path d="M536.4,416 L540.2,414.2 L559.6,426.2 L561.5,429.8 L560.6,443.8 L556,444.8 L537.4,433.6 Z" fill="none" stroke="#282828" stroke-width="1.08" stroke-linejoin="round" stroke-linecap="round" />
<path d="M538.4,417.6 L540.2,416.6 L558.2,427.8 L559.6,430.6 L558.8,442.2 L556.2,442.8 L539.2,432.6 Z" fill="none" stroke="#555" stroke-width="0.72" stroke-linejoin="round" stroke-linecap="round" />
<path d="M540.4,419.4 L557,429.6 L557.4,441 " fill="none" stroke="#666" stroke-width="0.72" stroke-linejoin="round" stroke-linecap="round" />
</g>
<ellipse cx="556.8" cy="372.2" rx="12.9" ry="7.0" fill="#fff" stroke="#282828" stroke-width="1.08" />
<path d="M543.9,372.6 C543.6,378 546,383 551,385.6 C556,387.8 563,387 567.6,383.6 C569.6,381.6 570.4,378 569.8,373" fill="none" stroke="#444" stroke-width="0.96" stroke-linejoin="round" stroke-linecap="round" />
<path d="M546,377.6 C547,381 550,383.6 554,384.6 C559,385.6 564,384.6 567.6,381.6" fill="none" stroke="#777" stroke-width="0.72" stroke-linejoin="round" stroke-linecap="round" />
<path d="M549.6,367.4 Q548.4,368 548.6,369.6 L549.2,375.4 Q549.6,377 551.2,377.2 L563.2,377 Q565,376.8 565.2,375.2 L565,368.8 Q564.8,367.4 563.2,367.4 Z" fill="none" stroke="#222" stroke-width="1.08" stroke-linejoin="round" stroke-linecap="round" />
<ellipse cx="557.0" cy="372.5" rx="6.9" ry="3.6" fill="none" stroke="#333" stroke-width="0.96" />
<path d="M551,373.6 A6,2.6 0 0 0 563,373.6" fill="none" stroke="#666" stroke-width="0.72" stroke-linejoin="round" stroke-linecap="round" />
<ellipse cx="549.4" cy="367.8" rx="0.9" ry="0.8" fill="#444" stroke="#222" stroke-width="0.96" />
<ellipse cx="565.0" cy="367.8" rx="0.9" ry="0.8" fill="#444" stroke="#222" stroke-width="0.96" />
<ellipse cx="550.0" cy="377.0" rx="0.9" ry="0.8" fill="#444" stroke="#222" stroke-width="0.96" />
<ellipse cx="565.0" cy="377.0" rx="0.9" ry="0.8" fill="#444" stroke="#222" stroke-width="0.96" />
<path d="M536.4,368.2 L544.4,372.6 M542.6,363.4 L549.4,366.6" fill="none" stroke="#282828" stroke-width="0.96" stroke-linejoin="round" stroke-linecap="round" />
<path d="M545,366 C542,362.6 537,362.6 535.6,365 C534.6,367.4 537,370.4 541,371 L545.4,370" fill="none" stroke="#282828" stroke-width="0.96" stroke-linejoin="round" stroke-linecap="round" />
<ellipse cx="539.6" cy="365.6" rx="3.2" ry="2.3" fill="none" stroke="#222" stroke-width="1.8" />
<ellipse cx="539.6" cy="365.8" rx="1.2" ry="0.9" fill="none" stroke="#444" stroke-width="0.72" />
<path d="M541.6,360.6 C542,357.6 544.6,355.4 547.6,355 L562,354.2 L571,359.6 L572.4,366.4" fill="none" stroke="#282828" stroke-width="0.96" stroke-linejoin="round" stroke-linecap="round" />
<path d="M547.6,355 L548.2,360.6 M554.4,357.6 L556.6,354.6 L566.4,357.2 L567.4,361.6" fill="none" stroke="#282828" stroke-width="0.84" stroke-linejoin="round" stroke-linecap="round" />
<ellipse cx="548.8" cy="360.2" rx="0.9" ry="0.7" fill="none" stroke="#282828" stroke-width="0.84" />
<ellipse cx="560.4" cy="360.2" rx="1.0" ry="1.5" fill="none" stroke="#282828" stroke-width="0.84" transform="rotate(30 560.4 360.2)" />
<ellipse cx="568.0" cy="362.6" rx="1.0" ry="1.6" fill="none" stroke="#282828" stroke-width="0.84" transform="rotate(20 568.0 362.6)" />
<path d="M556.6,354.6 L557,365.6 M548.6,349.6 L548.8,357 M541.2,354.6 L541.2,360" fill="none" stroke="#555" stroke-width="0.72" stroke-linejoin="round" stroke-linecap="round" />
<path d="M569.6,369 C572,368.4 574.6,370 574.8,372.6 C575,375 573,376.6 570.2,376.4" fill="none" stroke="#282828" stroke-width="0.96" stroke-linejoin="round" stroke-linecap="round" />
<ellipse cx="572.8" cy="372.6" rx="1.7" ry="2.2" fill="none" stroke="#222" stroke-width="1.68" />
<path d="M550.6,347.4 L571.6,359.4" fill="none" stroke="#333" stroke-width="0.96" stroke-linejoin="round" stroke-linecap="round" />
<line x1="536.6" y1="343.4" x2="572.4" y2="364.6" stroke="#555" stroke-width="0.72" />
<line x1="566.6" y1="361.0" x2="582.0" y2="370.0" stroke="#555" stroke-width="0.72" />
<g style="filter:grayscale(1)">
<text transform="translate(267.0 378.1) scale(1 1.04)" font-size="15.8" text-anchor="middle">28</text>
<text transform="translate(112.6 610.5) scale(1 1.04)" font-size="15.8" text-anchor="middle">29</text>
<text transform="translate(241.0 292.3) scale(1 1.04)" font-size="15.8" text-anchor="middle">22</text>
<text transform="translate(263.8 310.0) scale(1 1.04)" font-size="15.8" text-anchor="middle">23</text>
<text transform="translate(293.4 323.3) scale(1 1.04)" font-size="15.8" text-anchor="middle">24</text>
<text transform="translate(313.2 346.5) scale(1 1.04)" font-size="15.8" text-anchor="middle">25</text>
<text transform="translate(238.0 107.1) scale(1 1.04)" font-size="15.8" text-anchor="middle">19</text>
<text transform="translate(273.8 116.1) scale(1 1.04)" font-size="15.8" text-anchor="middle">20</text>
<text transform="translate(278.6 160.9) scale(1 1.04)" font-size="15.8" text-anchor="middle">21</text>
<text transform="translate(172.6 170.1) scale(1 1.04)" font-size="15.8" text-anchor="middle">17</text>
<text transform="translate(195.6 182.9) scale(1 1.04)" font-size="15.8" text-anchor="middle">18</text>
<text transform="translate(190.4 279.1) scale(1 1.04)" font-size="15.8" text-anchor="middle">16</text>
<text transform="translate(600.4 39.3) scale(1 1.04)" font-size="15.8" text-anchor="middle">1</text>
<text transform="translate(612.4 81.1) scale(1 1.04)" font-size="15.8" text-anchor="middle">2</text>
<text transform="translate(523.0 119.7) scale(1 1.04)" font-size="15.8" text-anchor="middle">27</text>
<text transform="translate(644.2 131.5) scale(1 1.04)" font-size="15.8" text-anchor="middle">3</text>
<text transform="translate(648.6 165.3) scale(1 1.04)" font-size="15.8" text-anchor="middle">4</text>
<text transform="translate(512.4 185.1) scale(1 1.04)" font-size="15.8" text-anchor="middle">5</text>
<text transform="translate(645.6 195.3) scale(1 1.04)" font-size="15.8" text-anchor="middle">6</text>
<text transform="translate(650.0 219.9) scale(1 1.04)" font-size="15.8" text-anchor="middle">7</text>
<text transform="translate(589.6 253.7) scale(1 1.04)" font-size="15.8" text-anchor="middle">8</text>
<text transform="translate(582.6 278.9) scale(1 1.04)" font-size="15.8" text-anchor="middle">9</text>
<text transform="translate(576.6 317.1) scale(1 1.04)" font-size="15.8" text-anchor="middle">10</text>
<text transform="translate(581.0 342.9) scale(1 1.04)" font-size="15.8" text-anchor="middle">11</text>
<text transform="translate(376.0 376.9) scale(1 1.04)" font-size="15.8" text-anchor="middle">15</text>
<text transform="translate(461.6 248.3) scale(1 1.04)" font-size="15.8" text-anchor="middle">26</text>
<text transform="translate(403.9 398.9) scale(1 1.04)" font-size="15.8" text-anchor="middle">14</text>
<text transform="translate(388.6 440.7) scale(1 1.04)" font-size="15.8" text-anchor="middle">12</text>
<text transform="translate(388.6 461.5) scale(1 1.04)" font-size="15.8" text-anchor="middle">13</text>
<text transform="translate(358.3 440.5) scale(1 1.04)" font-size="11.5" text-anchor="middle" font-weight="bold" style="stroke:none">LEFT</text>
<text transform="translate(355.2 460.3) scale(1 1.04)" font-size="11.5" text-anchor="middle" font-weight="bold" style="stroke:none">RIGHT</text>
</g>
</svg>
</body></html>
